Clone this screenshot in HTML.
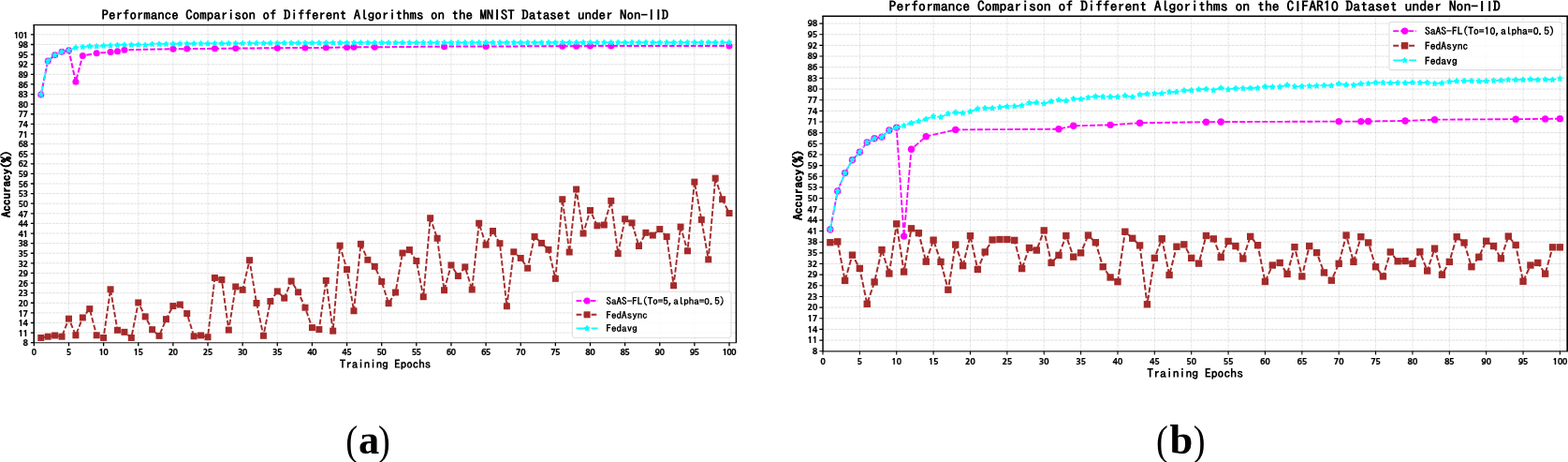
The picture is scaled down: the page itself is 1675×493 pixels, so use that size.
<!DOCTYPE html>
<html lang="en"><head><meta charset="utf-8"><title>Performance Comparison</title>
<style>html,body{margin:0;padding:0;background:#fff;}body{width:1675px;height:493px;overflow:hidden;}svg{display:block;}text{fill:#000;white-space:pre;}</style>
</head><body>
<svg width="1675" height="493" viewBox="0 0 1675 493">
<rect width="1675" height="493" fill="#fff"/>
<g>
<path d="M36.35,365.7H786.45M36.35,355.09H786.45M36.35,344.49H786.45M36.35,333.88H786.45M36.35,323.27H786.45M36.35,312.67H786.45M36.35,302.06H786.45M36.35,291.46H786.45M36.35,280.85H786.45M36.35,270.24H786.45M36.35,259.64H786.45M36.35,249.03H786.45M36.35,238.42H786.45M36.35,227.82H786.45M36.35,217.21H786.45M36.35,206.6H786.45M36.35,196H786.45M36.35,185.39H786.45M36.35,174.79H786.45M36.35,164.18H786.45M36.35,153.57H786.45M36.35,142.97H786.45M36.35,132.36H786.45M36.35,121.75H786.45M36.35,111.15H786.45M36.35,100.54H786.45M36.35,89.93H786.45M36.35,79.33H786.45M36.35,68.72H786.45M36.35,58.12H786.45M36.35,47.51H786.45M36.35,36.9H786.45" fill="none" stroke="#b0b0b0" stroke-opacity="0.47" stroke-width="0.8" stroke-dasharray="3.1 0.85"/>
<path d="M36.35,365.7V26.65M73.48,365.7V26.65M110.62,365.7V26.65M147.75,365.7V26.65M184.88,365.7V26.65M222.02,365.7V26.65M259.15,365.7V26.65M296.29,365.7V26.65M333.42,365.7V26.65M370.55,365.7V26.65M407.69,365.7V26.65M444.82,365.7V26.65M481.95,365.7V26.65M519.09,365.7V26.65M556.22,365.7V26.65M593.35,365.7V26.65M630.49,365.7V26.65M667.62,365.7V26.65M704.76,365.7V26.65M741.89,365.7V26.65M779.02,365.7V26.65" fill="none" stroke="#b0b0b0" stroke-opacity="0.4" stroke-width="0.8" stroke-dasharray="3.1 0.85"/>
<path d="M43.78,100.89L51.2,65.01L58.63,58.82L66.06,55.29L73.48,53.7L80.91,87.18L88.34,59.42L103.19,56.7L118.04,55.53L125.47,54.86L132.9,53.24L184.88,52.25L199.74,52.11L229.45,51.82L251.73,51.54L296.29,51.22L325.99,50.94L348.27,50.87L370.55,50.51L377.98,50.34L400.26,50.27L474.53,49.63L519.09,49.45L600.78,49.28L615.64,49.21L630.49,49.1L652.77,49.1L779.02,48.92" fill="none" stroke="#ff00ff" stroke-width="2" stroke-dasharray="5.6 2"/>
<g fill="#ff00ff"><circle cx="43.78" cy="100.89" r="3.5"/><circle cx="51.2" cy="65.01" r="3.5"/><circle cx="58.63" cy="58.82" r="3.5"/><circle cx="66.06" cy="55.29" r="3.5"/><circle cx="73.48" cy="53.7" r="3.5"/><circle cx="80.91" cy="87.18" r="3.5"/><circle cx="88.34" cy="59.42" r="3.5"/><circle cx="103.19" cy="56.7" r="3.5"/><circle cx="118.04" cy="55.53" r="3.5"/><circle cx="125.47" cy="54.86" r="3.5"/><circle cx="132.9" cy="53.24" r="3.5"/><circle cx="184.88" cy="52.25" r="3.5"/><circle cx="199.74" cy="52.11" r="3.5"/><circle cx="229.45" cy="51.82" r="3.5"/><circle cx="251.73" cy="51.54" r="3.5"/><circle cx="296.29" cy="51.22" r="3.5"/><circle cx="325.99" cy="50.94" r="3.5"/><circle cx="348.27" cy="50.87" r="3.5"/><circle cx="370.55" cy="50.51" r="3.5"/><circle cx="377.98" cy="50.34" r="3.5"/><circle cx="400.26" cy="50.27" r="3.5"/><circle cx="474.53" cy="49.63" r="3.5"/><circle cx="519.09" cy="49.45" r="3.5"/><circle cx="600.78" cy="49.28" r="3.5"/><circle cx="615.64" cy="49.21" r="3.5"/><circle cx="630.49" cy="49.1" r="3.5"/><circle cx="652.77" cy="49.1" r="3.5"/><circle cx="779.02" cy="48.92" r="3.5"/></g>
<path d="M43.78,360.43L51.2,359.19L58.63,357.99L66.06,359.19L73.48,340.14L80.91,357.78L88.34,338.94L95.76,329.6L103.19,357.78L110.62,360.43L118.04,308.78L125.47,352.3L132.9,354.35L140.32,360.43L147.75,322.92L155.18,337.91L162.6,351.7L170.03,358.38L177.46,340.6L184.88,326.56L192.31,325.04L199.74,334.59L207.16,358.81L214.59,357.92L222.02,359.69L229.45,296.41L236.87,298.53L244.3,352.09L251.73,305.95L259.15,309.31L266.58,277.67L274.01,323.45L281.43,358.28L288.86,321.51L296.29,310.9L303.71,318.15L311.14,299.94L318.57,311.78L325.99,328.22L333.42,349.61L340.85,351.56L348.27,299.41L355.7,353.15L363.13,262.11L370.55,287.57L377.98,331.76L385.41,260.34L392.83,277.31L400.26,284.38L407.69,300.47L415.11,323.7L422.54,312L429.97,270L437.39,266.57L444.82,278.48L452.25,316.77L459.67,232.73L467.1,254.26L474.53,309.7L481.95,282.94L489.38,294.5L496.81,284.91L504.23,308.99L511.66,238.21L519.09,261.23L526.51,246.52L533.94,259.71L541.37,326.74L548.79,268.79L556.22,275.44L563.65,286.19L571.07,252.53L578.5,259.39L585.93,266.32L593.35,297.32L600.78,212.72L608.21,269.01L615.64,202.01L623.06,249.07L630.49,224.53L637.92,240.83L645.34,240.05L652.77,214.31L660.2,270.63L667.62,233.72L675.05,237.86L682.48,262.54L689.9,248.29L697.33,251.12L704.76,244.58L712.18,252.6L719.61,304.75L727.04,242.1L734.46,267.8L741.89,194.16L749.32,234.43L756.74,276.89L764.17,190.2L771.6,212.72L779.02,227.5" fill="none" stroke="#a52a2a" stroke-width="1.9" stroke-dasharray="5.7 2.3"/>
<g fill="#a52a2a"><rect x="40.28" y="356.93" width="7" height="7"/><rect x="47.7" y="355.69" width="7" height="7"/><rect x="55.13" y="354.49" width="7" height="7"/><rect x="62.56" y="355.69" width="7" height="7"/><rect x="69.98" y="336.64" width="7" height="7"/><rect x="77.41" y="354.28" width="7" height="7"/><rect x="84.84" y="335.44" width="7" height="7"/><rect x="92.26" y="326.1" width="7" height="7"/><rect x="99.69" y="354.28" width="7" height="7"/><rect x="107.12" y="356.93" width="7" height="7"/><rect x="114.54" y="305.28" width="7" height="7"/><rect x="121.97" y="348.8" width="7" height="7"/><rect x="129.4" y="350.85" width="7" height="7"/><rect x="136.82" y="356.93" width="7" height="7"/><rect x="144.25" y="319.42" width="7" height="7"/><rect x="151.68" y="334.41" width="7" height="7"/><rect x="159.1" y="348.2" width="7" height="7"/><rect x="166.53" y="354.88" width="7" height="7"/><rect x="173.96" y="337.1" width="7" height="7"/><rect x="181.38" y="323.06" width="7" height="7"/><rect x="188.81" y="321.54" width="7" height="7"/><rect x="196.24" y="331.09" width="7" height="7"/><rect x="203.66" y="355.31" width="7" height="7"/><rect x="211.09" y="354.42" width="7" height="7"/><rect x="218.52" y="356.19" width="7" height="7"/><rect x="225.95" y="292.91" width="7" height="7"/><rect x="233.37" y="295.03" width="7" height="7"/><rect x="240.8" y="348.59" width="7" height="7"/><rect x="248.23" y="302.45" width="7" height="7"/><rect x="255.65" y="305.81" width="7" height="7"/><rect x="263.08" y="274.17" width="7" height="7"/><rect x="270.51" y="319.95" width="7" height="7"/><rect x="277.93" y="354.78" width="7" height="7"/><rect x="285.36" y="318.01" width="7" height="7"/><rect x="292.79" y="307.4" width="7" height="7"/><rect x="300.21" y="314.65" width="7" height="7"/><rect x="307.64" y="296.44" width="7" height="7"/><rect x="315.07" y="308.28" width="7" height="7"/><rect x="322.49" y="324.72" width="7" height="7"/><rect x="329.92" y="346.11" width="7" height="7"/><rect x="337.35" y="348.06" width="7" height="7"/><rect x="344.77" y="295.91" width="7" height="7"/><rect x="352.2" y="349.65" width="7" height="7"/><rect x="359.63" y="258.61" width="7" height="7"/><rect x="367.05" y="284.07" width="7" height="7"/><rect x="374.48" y="328.26" width="7" height="7"/><rect x="381.91" y="256.84" width="7" height="7"/><rect x="389.33" y="273.81" width="7" height="7"/><rect x="396.76" y="280.88" width="7" height="7"/><rect x="404.19" y="296.97" width="7" height="7"/><rect x="411.61" y="320.2" width="7" height="7"/><rect x="419.04" y="308.5" width="7" height="7"/><rect x="426.47" y="266.5" width="7" height="7"/><rect x="433.89" y="263.07" width="7" height="7"/><rect x="441.32" y="274.98" width="7" height="7"/><rect x="448.75" y="313.27" width="7" height="7"/><rect x="456.17" y="229.23" width="7" height="7"/><rect x="463.6" y="250.76" width="7" height="7"/><rect x="471.03" y="306.2" width="7" height="7"/><rect x="478.45" y="279.44" width="7" height="7"/><rect x="485.88" y="291" width="7" height="7"/><rect x="493.31" y="281.41" width="7" height="7"/><rect x="500.73" y="305.49" width="7" height="7"/><rect x="508.16" y="234.71" width="7" height="7"/><rect x="515.59" y="257.73" width="7" height="7"/><rect x="523.01" y="243.02" width="7" height="7"/><rect x="530.44" y="256.21" width="7" height="7"/><rect x="537.87" y="323.24" width="7" height="7"/><rect x="545.29" y="265.29" width="7" height="7"/><rect x="552.72" y="271.94" width="7" height="7"/><rect x="560.15" y="282.69" width="7" height="7"/><rect x="567.57" y="249.03" width="7" height="7"/><rect x="575" y="255.89" width="7" height="7"/><rect x="582.43" y="262.82" width="7" height="7"/><rect x="589.85" y="293.82" width="7" height="7"/><rect x="597.28" y="209.22" width="7" height="7"/><rect x="604.71" y="265.51" width="7" height="7"/><rect x="612.14" y="198.51" width="7" height="7"/><rect x="619.56" y="245.57" width="7" height="7"/><rect x="626.99" y="221.03" width="7" height="7"/><rect x="634.42" y="237.33" width="7" height="7"/><rect x="641.84" y="236.55" width="7" height="7"/><rect x="649.27" y="210.81" width="7" height="7"/><rect x="656.7" y="267.13" width="7" height="7"/><rect x="664.12" y="230.22" width="7" height="7"/><rect x="671.55" y="234.36" width="7" height="7"/><rect x="678.98" y="259.04" width="7" height="7"/><rect x="686.4" y="244.79" width="7" height="7"/><rect x="693.83" y="247.62" width="7" height="7"/><rect x="701.26" y="241.08" width="7" height="7"/><rect x="708.68" y="249.1" width="7" height="7"/><rect x="716.11" y="301.25" width="7" height="7"/><rect x="723.54" y="238.6" width="7" height="7"/><rect x="730.96" y="264.3" width="7" height="7"/><rect x="738.39" y="190.66" width="7" height="7"/><rect x="745.82" y="230.93" width="7" height="7"/><rect x="753.24" y="273.39" width="7" height="7"/><rect x="760.67" y="186.7" width="7" height="7"/><rect x="768.1" y="209.22" width="7" height="7"/><rect x="775.52" y="224" width="7" height="7"/></g>
<path d="M43.78,100.89L51.2,65.01L58.63,58.82L66.06,55.29L73.48,53.7L80.91,50.87L88.34,50.05L95.76,49.28L103.19,49.45L110.62,48.78L118.04,48.57L125.47,48.04L132.9,47.9L140.32,47.83L147.75,47.72L155.18,48.04L162.6,47.08L170.03,46.98L177.46,46.98L184.88,46.86L192.31,46.74L199.74,46.63L207.16,46.58L214.59,46.53L222.02,46.48L229.45,46.44L236.87,46.39L244.3,46.34L251.73,46.29L259.15,46.24L266.58,46.18L274.01,46.13L281.43,46.08L288.86,46.02L296.29,45.97L303.71,45.92L311.14,45.89L318.57,45.86L325.99,45.84L333.42,45.81L340.85,45.78L348.27,45.75L355.7,45.73L363.13,45.7L370.55,45.67L377.98,45.66L385.41,45.64L392.83,45.63L400.26,45.61L407.69,45.6L415.11,45.59L422.54,45.57L429.97,45.56L437.39,45.54L444.82,45.53L452.25,45.52L459.67,45.5L467.1,45.49L474.53,45.47L481.95,45.46L489.38,45.45L496.81,45.44L504.23,45.44L511.66,45.43L519.09,45.42L526.51,45.42L533.94,45.41L541.37,45.4L548.79,45.39L556.22,45.39L563.65,45.38L571.07,45.37L578.5,45.37L585.93,45.36L593.35,45.35L600.78,45.35L608.21,45.34L615.64,45.33L623.06,45.32L630.49,45.32L637.92,45.31L645.34,45.31L652.77,45.3L660.2,45.3L667.62,45.29L675.05,45.29L682.48,45.28L689.9,45.27L697.33,45.27L704.76,45.26L712.18,45.26L719.61,45.25L727.04,45.25L734.46,45.24L741.89,45.24L749.32,45.23L756.74,45.23L764.17,45.22L771.6,45.21L779.02,45.21" fill="none" stroke="#00ffff" stroke-width="1.6" stroke-dasharray="9.6 2.4 1.5 2.4"/>
<path d="M43.78,97.74L44.64,99.57L46.47,99.92L45.18,101.4L45.44,103.44L43.78,102.53L42.11,103.44L42.37,101.4L41.08,99.92L42.91,99.57ZM51.2,61.86L52.07,63.68L53.9,64.04L52.61,65.52L52.87,67.56L51.2,66.65L49.54,67.56L49.8,65.52L48.51,64.04L50.34,63.68ZM58.63,55.67L59.5,57.5L61.33,57.85L60.03,59.33L60.3,61.37L58.63,60.46L56.96,61.37L57.23,59.33L55.93,57.85L57.76,57.5ZM66.06,52.14L66.92,53.96L68.75,54.31L67.46,55.79L67.72,57.84L66.06,56.93L64.39,57.84L64.65,55.79L63.36,54.31L65.19,53.96ZM73.48,50.55L74.35,52.37L76.18,52.72L74.89,54.2L75.15,56.24L73.48,55.33L71.82,56.24L72.08,54.2L70.79,52.72L72.62,52.37ZM80.91,47.72L81.78,49.54L83.61,49.89L82.31,51.37L82.58,53.42L80.91,52.51L79.24,53.42L79.51,51.37L78.21,49.89L80.04,49.54ZM88.34,46.9L89.2,48.73L91.03,49.08L89.74,50.56L90,52.6L88.34,51.69L86.67,52.6L86.94,50.56L85.64,49.08L87.47,48.73ZM95.76,46.13L96.63,47.95L98.46,48.3L97.17,49.78L97.43,51.83L95.76,50.91L94.1,51.83L94.36,49.78L93.07,48.3L94.9,47.95ZM103.19,46.3L104.06,48.13L105.89,48.48L104.59,49.96L104.86,52L103.19,51.09L101.52,52L101.79,49.96L100.49,48.48L102.32,48.13ZM110.62,45.63L111.48,47.46L113.31,47.81L112.02,49.29L112.28,51.33L110.62,50.42L108.95,51.33L109.22,49.29L107.92,47.81L109.75,47.46ZM118.04,45.42L118.91,47.24L120.74,47.6L119.45,49.08L119.71,51.12L118.04,50.21L116.38,51.12L116.64,49.08L115.35,47.6L117.18,47.24ZM125.47,44.89L126.34,46.71L128.17,47.07L126.87,48.55L127.14,50.59L125.47,49.68L123.8,50.59L124.07,48.55L122.77,47.07L124.6,46.71ZM132.9,44.75L133.76,46.57L135.59,46.92L134.3,48.4L134.56,50.45L132.9,49.54L131.23,50.45L131.5,48.4L130.2,46.92L132.03,46.57ZM140.32,44.68L141.19,46.5L143.02,46.85L141.73,48.33L141.99,50.38L140.32,49.47L138.66,50.38L138.92,48.33L137.63,46.85L139.46,46.5ZM147.75,44.57L148.62,46.4L150.45,46.75L149.15,48.23L149.42,50.27L147.75,49.36L146.08,50.27L146.35,48.23L145.05,46.75L146.88,46.4ZM155.18,44.89L156.04,46.71L157.87,47.07L156.58,48.55L156.84,50.59L155.18,49.68L153.51,50.59L153.78,48.55L152.48,47.07L154.31,46.71ZM162.6,43.93L163.47,45.76L165.3,46.11L164.01,47.59L164.27,49.63L162.6,48.72L160.94,49.63L161.2,47.59L159.91,46.11L161.74,45.76ZM170.03,43.83L170.9,45.65L172.73,46.01L171.43,47.49L171.7,49.53L170.03,48.62L168.36,49.53L168.63,47.49L167.33,46.01L169.16,45.65ZM177.46,43.83L178.32,45.65L180.15,46.01L178.86,47.49L179.12,49.53L177.46,48.62L175.79,49.53L176.06,47.49L174.76,46.01L176.59,45.65ZM184.88,43.71L185.75,45.54L187.58,45.89L186.29,47.37L186.55,49.41L184.88,48.5L183.22,49.41L183.48,47.37L182.19,45.89L184.02,45.54ZM192.31,43.59L193.18,45.42L195.01,45.77L193.71,47.25L193.98,49.29L192.31,48.38L190.65,49.29L190.91,47.25L189.62,45.77L191.44,45.42ZM199.74,43.48L200.6,45.3L202.43,45.65L201.14,47.13L201.4,49.17L199.74,48.26L198.07,49.17L198.34,47.13L197.04,45.65L198.87,45.3ZM207.16,43.43L208.03,45.25L209.86,45.61L208.57,47.09L208.83,49.13L207.16,48.22L205.5,49.13L205.76,47.09L204.47,45.61L206.3,45.25ZM214.59,43.38L215.46,45.2L217.29,45.56L215.99,47.04L216.26,49.08L214.59,48.17L212.93,49.08L213.19,47.04L211.9,45.56L213.73,45.2ZM222.02,43.33L222.88,45.16L224.71,45.51L223.42,46.99L223.68,49.03L222.02,48.12L220.35,49.03L220.62,46.99L219.32,45.51L221.15,45.16ZM229.45,43.29L230.31,45.11L232.14,45.46L230.85,46.94L231.11,48.99L229.45,48.08L227.78,48.99L228.04,46.94L226.75,45.46L228.58,45.11ZM236.87,43.24L237.74,45.06L239.57,45.42L238.27,46.89L238.54,48.94L236.87,48.03L235.21,48.94L235.47,46.89L234.18,45.42L236.01,45.06ZM244.3,43.19L245.17,45.02L246.99,45.37L245.7,46.85L245.96,48.89L244.3,47.98L242.63,48.89L242.9,46.85L241.6,45.37L243.43,45.02ZM251.73,43.14L252.59,44.96L254.42,45.32L253.13,46.8L253.39,48.84L251.73,47.93L250.06,48.84L250.32,46.8L249.03,45.32L250.86,44.96ZM259.15,43.09L260.02,44.91L261.85,45.26L260.55,46.74L260.82,48.78L259.15,47.87L257.49,48.78L257.75,46.74L256.46,45.26L258.29,44.91ZM266.58,43.03L267.45,44.86L269.27,45.21L267.98,46.69L268.25,48.73L266.58,47.82L264.91,48.73L265.18,46.69L263.88,45.21L265.71,44.86ZM274.01,42.98L274.87,44.81L276.7,45.16L275.41,46.64L275.67,48.68L274.01,47.77L272.34,48.68L272.6,46.64L271.31,45.16L273.14,44.81ZM281.43,42.93L282.3,44.75L284.13,45.1L282.83,46.58L283.1,48.63L281.43,47.72L279.77,48.63L280.03,46.58L278.74,45.1L280.57,44.75ZM288.86,42.87L289.73,44.7L291.56,45.05L290.26,46.53L290.53,48.57L288.86,47.66L287.19,48.57L287.46,46.53L286.16,45.05L287.99,44.7ZM296.29,42.82L297.15,44.65L298.98,45L297.69,46.48L297.95,48.52L296.29,47.61L294.62,48.52L294.88,46.48L293.59,45L295.42,44.65ZM303.71,42.77L304.58,44.59L306.41,44.94L305.11,46.42L305.38,48.47L303.71,47.56L302.05,48.47L302.31,46.42L301.02,44.94L302.85,44.59ZM311.14,42.74L312.01,44.56L313.84,44.92L312.54,46.4L312.81,48.44L311.14,47.53L309.47,48.44L309.74,46.4L308.44,44.92L310.27,44.56ZM318.57,42.71L319.43,44.54L321.26,44.89L319.97,46.37L320.23,48.41L318.57,47.5L316.9,48.41L317.16,46.37L315.87,44.89L317.7,44.54ZM325.99,42.69L326.86,44.51L328.69,44.86L327.39,46.34L327.66,48.39L325.99,47.47L324.33,48.39L324.59,46.34L323.3,44.86L325.13,44.51ZM333.42,42.66L334.29,44.48L336.12,44.84L334.82,46.31L335.09,48.36L333.42,47.45L331.75,48.36L332.02,46.31L330.72,44.84L332.55,44.48ZM340.85,42.63L341.71,44.46L343.54,44.81L342.25,46.29L342.51,48.33L340.85,47.42L339.18,48.33L339.44,46.29L338.15,44.81L339.98,44.46ZM348.27,42.6L349.14,44.43L350.97,44.78L349.67,46.26L349.94,48.3L348.27,47.39L346.61,48.3L346.87,46.26L345.58,44.78L347.41,44.43ZM355.7,42.58L356.57,44.4L358.4,44.75L357.1,46.23L357.37,48.28L355.7,47.37L354.03,48.28L354.3,46.23L353,44.75L354.83,44.4ZM363.13,42.55L363.99,44.37L365.82,44.73L364.53,46.21L364.79,48.25L363.13,47.34L361.46,48.25L361.72,46.21L360.43,44.73L362.26,44.37ZM370.55,42.52L371.42,44.35L373.25,44.7L371.96,46.18L372.22,48.22L370.55,47.31L368.89,48.22L369.15,46.18L367.86,44.7L369.69,44.35ZM377.98,42.51L378.85,44.33L380.68,44.68L379.38,46.16L379.65,48.21L377.98,47.29L376.31,48.21L376.58,46.16L375.28,44.68L377.11,44.33ZM385.41,42.49L386.27,44.32L388.1,44.67L386.81,46.15L387.07,48.19L385.41,47.28L383.74,48.19L384,46.15L382.71,44.67L384.54,44.32ZM392.83,42.48L393.7,44.3L395.53,44.65L394.24,46.13L394.5,48.18L392.83,47.27L391.17,48.18L391.43,46.13L390.14,44.65L391.97,44.3ZM400.26,42.46L401.13,44.29L402.96,44.64L401.66,46.12L401.93,48.16L400.26,47.25L398.59,48.16L398.86,46.12L397.56,44.64L399.39,44.29ZM407.69,42.45L408.55,44.27L410.38,44.63L409.09,46.11L409.35,48.15L407.69,47.24L406.02,48.15L406.28,46.11L404.99,44.63L406.82,44.27ZM415.11,42.44L415.98,44.26L417.81,44.61L416.52,46.09L416.78,48.13L415.11,47.22L413.45,48.13L413.71,46.09L412.42,44.61L414.25,44.26ZM422.54,42.42L423.41,44.25L425.24,44.6L423.94,46.08L424.21,48.12L422.54,47.21L420.87,48.12L421.14,46.08L419.84,44.6L421.67,44.25ZM429.97,42.41L430.83,44.23L432.66,44.58L431.37,46.06L431.63,48.11L429.97,47.2L428.3,48.11L428.56,46.06L427.27,44.58L429.1,44.23ZM437.39,42.39L438.26,44.22L440.09,44.57L438.8,46.05L439.06,48.09L437.39,47.18L435.73,48.09L435.99,46.05L434.7,44.57L436.53,44.22ZM444.82,42.38L445.69,44.2L447.52,44.56L446.22,46.04L446.49,48.08L444.82,47.17L443.15,48.08L443.42,46.04L442.12,44.56L443.95,44.2ZM452.25,42.37L453.11,44.19L454.94,44.54L453.65,46.02L453.91,48.06L452.25,47.15L450.58,48.06L450.84,46.02L449.55,44.54L451.38,44.19ZM459.67,42.35L460.54,44.18L462.37,44.53L461.08,46.01L461.34,48.05L459.67,47.14L458.01,48.05L458.27,46.01L456.98,44.53L458.81,44.18ZM467.1,42.34L467.97,44.16L469.8,44.51L468.5,45.99L468.77,48.04L467.1,47.12L465.43,48.04L465.7,45.99L464.4,44.51L466.23,44.16ZM474.53,42.32L475.39,44.15L477.22,44.5L475.93,45.98L476.19,48.02L474.53,47.11L472.86,48.02L473.13,45.98L471.83,44.5L473.66,44.15ZM481.95,42.31L482.82,44.13L484.65,44.49L483.36,45.96L483.62,48.01L481.95,47.1L480.29,48.01L480.55,45.96L479.26,44.49L481.09,44.13ZM489.38,42.3L490.25,44.13L492.08,44.48L490.78,45.96L491.05,48L489.38,47.09L487.71,48L487.98,45.96L486.68,44.48L488.51,44.13ZM496.81,42.29L497.67,44.12L499.5,44.47L498.21,45.95L498.47,47.99L496.81,47.08L495.14,47.99L495.41,45.95L494.11,44.47L495.94,44.12ZM504.23,42.29L505.1,44.11L506.93,44.46L505.64,45.94L505.9,47.99L504.23,47.08L502.57,47.99L502.83,45.94L501.54,44.46L503.37,44.11ZM511.66,42.28L512.53,44.11L514.36,44.46L513.06,45.94L513.33,47.98L511.66,47.07L509.99,47.98L510.26,45.94L508.96,44.46L510.79,44.11ZM519.09,42.27L519.95,44.1L521.78,44.45L520.49,45.93L520.75,47.97L519.09,47.06L517.42,47.97L517.69,45.93L516.39,44.45L518.22,44.1ZM526.51,42.27L527.38,44.09L529.21,44.44L527.92,45.92L528.18,47.96L526.51,47.05L524.85,47.96L525.11,45.92L523.82,44.44L525.65,44.09ZM533.94,42.26L534.81,44.08L536.64,44.44L535.34,45.92L535.61,47.96L533.94,47.05L532.27,47.96L532.54,45.92L531.24,44.44L533.07,44.08ZM541.37,42.25L542.23,44.08L544.06,44.43L542.77,45.91L543.03,47.95L541.37,47.04L539.7,47.95L539.97,45.91L538.67,44.43L540.5,44.08ZM548.79,42.24L549.66,44.07L551.49,44.42L550.2,45.9L550.46,47.94L548.79,47.03L547.13,47.94L547.39,45.9L546.1,44.42L547.93,44.07ZM556.22,42.24L557.09,44.06L558.92,44.41L557.62,45.89L557.89,47.94L556.22,47.03L554.55,47.94L554.82,45.89L553.53,44.41L555.35,44.06ZM563.65,42.23L564.51,44.06L566.34,44.41L565.05,45.89L565.31,47.93L563.65,47.02L561.98,47.93L562.25,45.89L560.95,44.41L562.78,44.06ZM571.07,42.22L571.94,44.05L573.77,44.4L572.48,45.88L572.74,47.92L571.07,47.01L569.41,47.92L569.67,45.88L568.38,44.4L570.21,44.05ZM578.5,42.22L579.37,44.04L581.2,44.39L579.9,45.87L580.17,47.92L578.5,47L576.84,47.92L577.1,45.87L575.81,44.39L577.63,44.04ZM585.93,42.21L586.79,44.03L588.62,44.39L587.33,45.87L587.59,47.91L585.93,47L584.26,47.91L584.53,45.87L583.23,44.39L585.06,44.03ZM593.35,42.2L594.22,44.03L596.05,44.38L594.76,45.86L595.02,47.9L593.35,46.99L591.69,47.9L591.95,45.86L590.66,44.38L592.49,44.03ZM600.78,42.2L601.65,44.02L603.48,44.37L602.18,45.85L602.45,47.89L600.78,46.98L599.12,47.89L599.38,45.85L598.09,44.37L599.92,44.02ZM608.21,42.19L609.07,44.01L610.9,44.37L609.61,45.84L609.87,47.89L608.21,46.98L606.54,47.89L606.81,45.84L605.51,44.37L607.34,44.01ZM615.64,42.18L616.5,44.01L618.33,44.36L617.04,45.84L617.3,47.88L615.64,46.97L613.97,47.88L614.23,45.84L612.94,44.36L614.77,44.01ZM623.06,42.17L623.93,44L625.76,44.35L624.46,45.83L624.73,47.87L623.06,46.96L621.4,47.87L621.66,45.83L620.37,44.35L622.2,44ZM630.49,42.17L631.36,43.99L633.18,44.34L631.89,45.82L632.15,47.87L630.49,46.96L628.82,47.87L629.09,45.82L627.79,44.34L629.62,43.99ZM637.92,42.16L638.78,43.99L640.61,44.34L639.32,45.82L639.58,47.86L637.92,46.95L636.25,47.86L636.51,45.82L635.22,44.34L637.05,43.99ZM645.34,42.16L646.21,43.98L648.04,44.33L646.74,45.81L647.01,47.85L645.34,46.94L643.68,47.85L643.94,45.81L642.65,44.33L644.48,43.98ZM652.77,42.15L653.64,43.97L655.47,44.33L654.17,45.81L654.44,47.85L652.77,46.94L651.1,47.85L651.37,45.81L650.07,44.33L651.9,43.97ZM660.2,42.15L661.06,43.97L662.89,44.32L661.6,45.8L661.86,47.84L660.2,46.93L658.53,47.84L658.79,45.8L657.5,44.32L659.33,43.97ZM667.62,42.14L668.49,43.97L670.32,44.32L669.02,45.8L669.29,47.84L667.62,46.93L665.96,47.84L666.22,45.8L664.93,44.32L666.76,43.97ZM675.05,42.14L675.92,43.96L677.75,44.31L676.45,45.79L676.72,47.83L675.05,46.92L673.38,47.83L673.65,45.79L672.35,44.31L674.18,43.96ZM682.48,42.13L683.34,43.95L685.17,44.3L683.88,45.78L684.14,47.83L682.48,46.92L680.81,47.83L681.07,45.78L679.78,44.3L681.61,43.95ZM689.9,42.12L690.77,43.95L692.6,44.3L691.3,45.78L691.57,47.82L689.9,46.91L688.24,47.82L688.5,45.78L687.21,44.3L689.04,43.95ZM697.33,42.12L698.2,43.95L700.03,44.3L698.73,45.78L699,47.82L697.33,46.91L695.66,47.82L695.93,45.78L694.63,44.3L696.46,43.95ZM704.76,42.11L705.62,43.94L707.45,44.29L706.16,45.77L706.42,47.81L704.76,46.9L703.09,47.81L703.35,45.77L702.06,44.29L703.89,43.94ZM712.18,42.11L713.05,43.93L714.88,44.28L713.58,45.76L713.85,47.81L712.18,46.9L710.52,47.81L710.78,45.76L709.49,44.28L711.32,43.93ZM719.61,42.1L720.48,43.93L722.31,44.28L721.01,45.76L721.28,47.8L719.61,46.89L717.94,47.8L718.21,45.76L716.91,44.28L718.74,43.93ZM727.04,42.1L727.9,43.92L729.73,44.28L728.44,45.76L728.7,47.8L727.04,46.89L725.37,47.8L725.63,45.76L724.34,44.28L726.17,43.92ZM734.46,42.09L735.33,43.92L737.16,44.27L735.86,45.75L736.13,47.79L734.46,46.88L732.8,47.79L733.06,45.75L731.77,44.27L733.6,43.92ZM741.89,42.09L742.76,43.91L744.59,44.26L743.29,45.74L743.56,47.78L741.89,46.87L740.22,47.78L740.49,45.74L739.19,44.26L741.02,43.91ZM749.32,42.08L750.18,43.91L752.01,44.26L750.72,45.74L750.98,47.78L749.32,46.87L747.65,47.78L747.91,45.74L746.62,44.26L748.45,43.91ZM756.74,42.08L757.61,43.9L759.44,44.26L758.15,45.73L758.41,47.78L756.74,46.87L755.08,47.78L755.34,45.73L754.05,44.26L755.88,43.9ZM764.17,42.07L765.04,43.9L766.87,44.25L765.57,45.73L765.84,47.77L764.17,46.86L762.5,47.77L762.77,45.73L761.47,44.25L763.3,43.9ZM771.6,42.06L772.46,43.89L774.29,44.24L773,45.72L773.26,47.76L771.6,46.85L769.93,47.76L770.19,45.72L768.9,44.24L770.73,43.89ZM779.02,42.06L779.89,43.89L781.72,44.24L780.43,45.72L780.69,47.76L779.02,46.85L777.36,47.76L777.62,45.72L776.33,44.24L778.16,43.89Z" fill="#00ffff" stroke="#00ffff" stroke-width="0.9" stroke-linejoin="round"/>
<rect x="611.4" y="311.1" width="169.65" height="49.25" rx="2.2" fill="#ffffff" fill-opacity="0.8" stroke="#cccccc" stroke-opacity="0.65" stroke-width="1"/>
<path d="M615.6,320.9H638.6" fill="none" stroke="#ff00ff" stroke-width="2" stroke-dasharray="5.6 2"/>
<circle cx="627.1" cy="320.9" r="3.5" fill="#ff00ff"/>
<text transform="translate(647.6,324.8) scale(1,0.94)" font-family="IPAGothic, 'DejaVu Sans Mono', 'Liberation Mono', monospace" font-size="11.02" font-weight="bold" xml:space="preserve"><tspan x="0" textLength="104.69" lengthAdjust="spacing">SaAS-FL(To=5,alpha=</tspan><tspan x="104.51" font-family="NanumGothic, 'Noto Sans CJK SC', 'Liberation Sans', sans-serif" font-size="9.7" font-weight="800">0</tspan><tspan x="110.2" textLength="16.53" lengthAdjust="spacing">.5)</tspan></text>
<path d="M615.6,335.8H638.6" fill="none" stroke="#a52a2a" stroke-width="1.9" stroke-dasharray="5.7 2.3"/>
<rect x="623.6" y="332.3" width="7" height="7" fill="#a52a2a"/>
<text transform="translate(647.6,339.7) scale(1,0.94)" font-family="IPAGothic, 'DejaVu Sans Mono', 'Liberation Mono', monospace" font-size="11.02" font-weight="bold" xml:space="preserve"><tspan x="0" textLength="44.08" lengthAdjust="spacing">FedAsync</tspan></text>
<path d="M615.6,350.4H638.6" fill="none" stroke="#00ffff" stroke-width="1.6" stroke-dasharray="9.6 2.4 1.5 2.4"/>
<path d="M627.1,347.25L627.97,349.07L629.8,349.43L628.5,350.91L628.77,352.95L627.1,352.04L625.43,352.95L625.7,350.91L624.4,349.43L626.23,349.07Z" fill="#00ffff" stroke="#00ffff" stroke-width="0.9" stroke-linejoin="round"/>
<text transform="translate(647.6,354.3) scale(1,0.94)" font-family="IPAGothic, 'DejaVu Sans Mono', 'Liberation Mono', monospace" font-size="11.02" font-weight="bold" xml:space="preserve"><tspan x="0" textLength="33.06" lengthAdjust="spacing">Fedavg</tspan></text>
<path d="M35.5,26.6H787.1" fill="none" stroke="#111" stroke-width="1.05"/>
<path d="M35.5,365.75H787.1" fill="none" stroke="#222" stroke-width="1.2"/>
<path d="M36.25,26.6V365.75" fill="none" stroke="#000" stroke-width="1.5"/>
<path d="M786.4,26.6V365.75" fill="none" stroke="#000" stroke-width="1.4"/>
<path d="M36.35,365.7h-3.5M36.35,355.09h-3.5M36.35,344.49h-3.5M36.35,333.88h-3.5M36.35,323.27h-3.5M36.35,312.67h-3.5M36.35,302.06h-3.5M36.35,291.46h-3.5M36.35,280.85h-3.5M36.35,270.24h-3.5M36.35,259.64h-3.5M36.35,249.03h-3.5M36.35,238.42h-3.5M36.35,227.82h-3.5M36.35,217.21h-3.5M36.35,206.6h-3.5M36.35,196h-3.5M36.35,185.39h-3.5M36.35,174.79h-3.5M36.35,164.18h-3.5M36.35,153.57h-3.5M36.35,142.97h-3.5M36.35,132.36h-3.5M36.35,121.75h-3.5M36.35,111.15h-3.5M36.35,100.54h-3.5M36.35,89.93h-3.5M36.35,79.33h-3.5M36.35,68.72h-3.5M36.35,58.12h-3.5M36.35,47.51h-3.5M36.35,36.9h-3.5M36.35,365.7v3.5M73.48,365.7v3.5M110.62,365.7v3.5M147.75,365.7v3.5M184.88,365.7v3.5M222.02,365.7v3.5M259.15,365.7v3.5M296.29,365.7v3.5M333.42,365.7v3.5M370.55,365.7v3.5M407.69,365.7v3.5M444.82,365.7v3.5M481.95,365.7v3.5M519.09,365.7v3.5M556.22,365.7v3.5M593.35,365.7v3.5M630.49,365.7v3.5M667.62,365.7v3.5M704.76,365.7v3.5M741.89,365.7v3.5M779.02,365.7v3.5" fill="none" stroke="#000" stroke-width="1.3"/>
<g fill="#000">
<text x="24.42" y="369.4" font-family="NanumGothic, 'Noto Sans CJK SC', 'Liberation Sans', sans-serif" font-size="9.1" font-weight="800" letter-spacing="-0.66" stroke="#000" stroke-width="0.15">8</text>
<text x="19.57" y="358.79" font-family="NanumGothic, 'Noto Sans CJK SC', 'Liberation Sans', sans-serif" font-size="9.1" font-weight="800" letter-spacing="-0.66" stroke="#000" stroke-width="0.15">11</text>
<text x="19.57" y="348.19" font-family="NanumGothic, 'Noto Sans CJK SC', 'Liberation Sans', sans-serif" font-size="9.1" font-weight="800" letter-spacing="-0.66" stroke="#000" stroke-width="0.15">14</text>
<text x="19.57" y="337.58" font-family="NanumGothic, 'Noto Sans CJK SC', 'Liberation Sans', sans-serif" font-size="9.1" font-weight="800" letter-spacing="-0.66" stroke="#000" stroke-width="0.15">17</text>
<text x="19.57" y="326.97" font-family="NanumGothic, 'Noto Sans CJK SC', 'Liberation Sans', sans-serif" font-size="9.1" font-weight="800" letter-spacing="-0.66" stroke="#000" stroke-width="0.15">20</text>
<text x="19.57" y="316.37" font-family="NanumGothic, 'Noto Sans CJK SC', 'Liberation Sans', sans-serif" font-size="9.1" font-weight="800" letter-spacing="-0.66" stroke="#000" stroke-width="0.15">23</text>
<text x="19.57" y="305.76" font-family="NanumGothic, 'Noto Sans CJK SC', 'Liberation Sans', sans-serif" font-size="9.1" font-weight="800" letter-spacing="-0.66" stroke="#000" stroke-width="0.15">26</text>
<text x="19.57" y="295.16" font-family="NanumGothic, 'Noto Sans CJK SC', 'Liberation Sans', sans-serif" font-size="9.1" font-weight="800" letter-spacing="-0.66" stroke="#000" stroke-width="0.15">29</text>
<text x="19.57" y="284.55" font-family="NanumGothic, 'Noto Sans CJK SC', 'Liberation Sans', sans-serif" font-size="9.1" font-weight="800" letter-spacing="-0.66" stroke="#000" stroke-width="0.15">32</text>
<text x="19.57" y="273.94" font-family="NanumGothic, 'Noto Sans CJK SC', 'Liberation Sans', sans-serif" font-size="9.1" font-weight="800" letter-spacing="-0.66" stroke="#000" stroke-width="0.15">35</text>
<text x="19.57" y="263.34" font-family="NanumGothic, 'Noto Sans CJK SC', 'Liberation Sans', sans-serif" font-size="9.1" font-weight="800" letter-spacing="-0.66" stroke="#000" stroke-width="0.15">38</text>
<text x="19.57" y="252.73" font-family="NanumGothic, 'Noto Sans CJK SC', 'Liberation Sans', sans-serif" font-size="9.1" font-weight="800" letter-spacing="-0.66" stroke="#000" stroke-width="0.15">41</text>
<text x="19.57" y="242.12" font-family="NanumGothic, 'Noto Sans CJK SC', 'Liberation Sans', sans-serif" font-size="9.1" font-weight="800" letter-spacing="-0.66" stroke="#000" stroke-width="0.15">44</text>
<text x="19.57" y="231.52" font-family="NanumGothic, 'Noto Sans CJK SC', 'Liberation Sans', sans-serif" font-size="9.1" font-weight="800" letter-spacing="-0.66" stroke="#000" stroke-width="0.15">47</text>
<text x="19.57" y="220.91" font-family="NanumGothic, 'Noto Sans CJK SC', 'Liberation Sans', sans-serif" font-size="9.1" font-weight="800" letter-spacing="-0.66" stroke="#000" stroke-width="0.15">50</text>
<text x="19.57" y="210.3" font-family="NanumGothic, 'Noto Sans CJK SC', 'Liberation Sans', sans-serif" font-size="9.1" font-weight="800" letter-spacing="-0.66" stroke="#000" stroke-width="0.15">53</text>
<text x="19.57" y="199.7" font-family="NanumGothic, 'Noto Sans CJK SC', 'Liberation Sans', sans-serif" font-size="9.1" font-weight="800" letter-spacing="-0.66" stroke="#000" stroke-width="0.15">56</text>
<text x="19.57" y="189.09" font-family="NanumGothic, 'Noto Sans CJK SC', 'Liberation Sans', sans-serif" font-size="9.1" font-weight="800" letter-spacing="-0.66" stroke="#000" stroke-width="0.15">59</text>
<text x="19.57" y="178.49" font-family="NanumGothic, 'Noto Sans CJK SC', 'Liberation Sans', sans-serif" font-size="9.1" font-weight="800" letter-spacing="-0.66" stroke="#000" stroke-width="0.15">62</text>
<text x="19.57" y="167.88" font-family="NanumGothic, 'Noto Sans CJK SC', 'Liberation Sans', sans-serif" font-size="9.1" font-weight="800" letter-spacing="-0.66" stroke="#000" stroke-width="0.15">65</text>
<text x="19.57" y="157.27" font-family="NanumGothic, 'Noto Sans CJK SC', 'Liberation Sans', sans-serif" font-size="9.1" font-weight="800" letter-spacing="-0.66" stroke="#000" stroke-width="0.15">68</text>
<text x="19.57" y="146.67" font-family="NanumGothic, 'Noto Sans CJK SC', 'Liberation Sans', sans-serif" font-size="9.1" font-weight="800" letter-spacing="-0.66" stroke="#000" stroke-width="0.15">71</text>
<text x="19.57" y="136.06" font-family="NanumGothic, 'Noto Sans CJK SC', 'Liberation Sans', sans-serif" font-size="9.1" font-weight="800" letter-spacing="-0.66" stroke="#000" stroke-width="0.15">74</text>
<text x="19.57" y="125.45" font-family="NanumGothic, 'Noto Sans CJK SC', 'Liberation Sans', sans-serif" font-size="9.1" font-weight="800" letter-spacing="-0.66" stroke="#000" stroke-width="0.15">77</text>
<text x="19.57" y="114.85" font-family="NanumGothic, 'Noto Sans CJK SC', 'Liberation Sans', sans-serif" font-size="9.1" font-weight="800" letter-spacing="-0.66" stroke="#000" stroke-width="0.15">80</text>
<text x="19.57" y="104.24" font-family="NanumGothic, 'Noto Sans CJK SC', 'Liberation Sans', sans-serif" font-size="9.1" font-weight="800" letter-spacing="-0.66" stroke="#000" stroke-width="0.15">83</text>
<text x="19.57" y="93.63" font-family="NanumGothic, 'Noto Sans CJK SC', 'Liberation Sans', sans-serif" font-size="9.1" font-weight="800" letter-spacing="-0.66" stroke="#000" stroke-width="0.15">86</text>
<text x="19.57" y="83.03" font-family="NanumGothic, 'Noto Sans CJK SC', 'Liberation Sans', sans-serif" font-size="9.1" font-weight="800" letter-spacing="-0.66" stroke="#000" stroke-width="0.15">89</text>
<text x="19.57" y="72.42" font-family="NanumGothic, 'Noto Sans CJK SC', 'Liberation Sans', sans-serif" font-size="9.1" font-weight="800" letter-spacing="-0.66" stroke="#000" stroke-width="0.15">92</text>
<text x="19.57" y="61.82" font-family="NanumGothic, 'Noto Sans CJK SC', 'Liberation Sans', sans-serif" font-size="9.1" font-weight="800" letter-spacing="-0.66" stroke="#000" stroke-width="0.15">95</text>
<text x="19.57" y="51.21" font-family="NanumGothic, 'Noto Sans CJK SC', 'Liberation Sans', sans-serif" font-size="9.1" font-weight="800" letter-spacing="-0.66" stroke="#000" stroke-width="0.15">98</text>
<text x="14.72" y="40.6" font-family="NanumGothic, 'Noto Sans CJK SC', 'Liberation Sans', sans-serif" font-size="9.1" font-weight="800" letter-spacing="-0.66" stroke="#000" stroke-width="0.15">101</text>
<text x="33.59" y="379" font-family="NanumGothic, 'Noto Sans CJK SC', 'Liberation Sans', sans-serif" font-size="9.1" font-weight="800" letter-spacing="-0.66" stroke="#000" stroke-width="0.15">0</text>
<text x="70.73" y="379" font-family="NanumGothic, 'Noto Sans CJK SC', 'Liberation Sans', sans-serif" font-size="9.1" font-weight="800" letter-spacing="-0.66" stroke="#000" stroke-width="0.15">5</text>
<text x="105.44" y="379" font-family="NanumGothic, 'Noto Sans CJK SC', 'Liberation Sans', sans-serif" font-size="9.1" font-weight="800" letter-spacing="-0.66" stroke="#000" stroke-width="0.15">10</text>
<text x="142.57" y="379" font-family="NanumGothic, 'Noto Sans CJK SC', 'Liberation Sans', sans-serif" font-size="9.1" font-weight="800" letter-spacing="-0.66" stroke="#000" stroke-width="0.15">15</text>
<text x="179.7" y="379" font-family="NanumGothic, 'Noto Sans CJK SC', 'Liberation Sans', sans-serif" font-size="9.1" font-weight="800" letter-spacing="-0.66" stroke="#000" stroke-width="0.15">20</text>
<text x="216.84" y="379" font-family="NanumGothic, 'Noto Sans CJK SC', 'Liberation Sans', sans-serif" font-size="9.1" font-weight="800" letter-spacing="-0.66" stroke="#000" stroke-width="0.15">25</text>
<text x="253.97" y="379" font-family="NanumGothic, 'Noto Sans CJK SC', 'Liberation Sans', sans-serif" font-size="9.1" font-weight="800" letter-spacing="-0.66" stroke="#000" stroke-width="0.15">30</text>
<text x="291.1" y="379" font-family="NanumGothic, 'Noto Sans CJK SC', 'Liberation Sans', sans-serif" font-size="9.1" font-weight="800" letter-spacing="-0.66" stroke="#000" stroke-width="0.15">35</text>
<text x="328.24" y="379" font-family="NanumGothic, 'Noto Sans CJK SC', 'Liberation Sans', sans-serif" font-size="9.1" font-weight="800" letter-spacing="-0.66" stroke="#000" stroke-width="0.15">40</text>
<text x="365.37" y="379" font-family="NanumGothic, 'Noto Sans CJK SC', 'Liberation Sans', sans-serif" font-size="9.1" font-weight="800" letter-spacing="-0.66" stroke="#000" stroke-width="0.15">45</text>
<text x="402.5" y="379" font-family="NanumGothic, 'Noto Sans CJK SC', 'Liberation Sans', sans-serif" font-size="9.1" font-weight="800" letter-spacing="-0.66" stroke="#000" stroke-width="0.15">50</text>
<text x="439.64" y="379" font-family="NanumGothic, 'Noto Sans CJK SC', 'Liberation Sans', sans-serif" font-size="9.1" font-weight="800" letter-spacing="-0.66" stroke="#000" stroke-width="0.15">55</text>
<text x="476.77" y="379" font-family="NanumGothic, 'Noto Sans CJK SC', 'Liberation Sans', sans-serif" font-size="9.1" font-weight="800" letter-spacing="-0.66" stroke="#000" stroke-width="0.15">60</text>
<text x="513.91" y="379" font-family="NanumGothic, 'Noto Sans CJK SC', 'Liberation Sans', sans-serif" font-size="9.1" font-weight="800" letter-spacing="-0.66" stroke="#000" stroke-width="0.15">65</text>
<text x="551.04" y="379" font-family="NanumGothic, 'Noto Sans CJK SC', 'Liberation Sans', sans-serif" font-size="9.1" font-weight="800" letter-spacing="-0.66" stroke="#000" stroke-width="0.15">70</text>
<text x="588.17" y="379" font-family="NanumGothic, 'Noto Sans CJK SC', 'Liberation Sans', sans-serif" font-size="9.1" font-weight="800" letter-spacing="-0.66" stroke="#000" stroke-width="0.15">75</text>
<text x="625.31" y="379" font-family="NanumGothic, 'Noto Sans CJK SC', 'Liberation Sans', sans-serif" font-size="9.1" font-weight="800" letter-spacing="-0.66" stroke="#000" stroke-width="0.15">80</text>
<text x="662.44" y="379" font-family="NanumGothic, 'Noto Sans CJK SC', 'Liberation Sans', sans-serif" font-size="9.1" font-weight="800" letter-spacing="-0.66" stroke="#000" stroke-width="0.15">85</text>
<text x="699.57" y="379" font-family="NanumGothic, 'Noto Sans CJK SC', 'Liberation Sans', sans-serif" font-size="9.1" font-weight="800" letter-spacing="-0.66" stroke="#000" stroke-width="0.15">90</text>
<text x="736.71" y="379" font-family="NanumGothic, 'Noto Sans CJK SC', 'Liberation Sans', sans-serif" font-size="9.1" font-weight="800" letter-spacing="-0.66" stroke="#000" stroke-width="0.15">95</text>
<text x="771.42" y="379" font-family="NanumGothic, 'Noto Sans CJK SC', 'Liberation Sans', sans-serif" font-size="9.1" font-weight="800" letter-spacing="-0.66" stroke="#000" stroke-width="0.15">100</text>
</g>
<text transform="translate(411.4,20.6) scale(1,0.94)" font-family="IPAGothic, 'DejaVu Sans Mono', 'Liberation Mono', monospace" font-size="14.96" font-weight="bold" xml:space="preserve"><tspan x="-302.94" textLength="418.88" lengthAdjust="spacing">Performance Comparison of Different Algorithms on the MN</tspan><tspan x="117.96" font-family="NanumGothic, 'Noto Sans CJK SC', 'Liberation Sans', sans-serif" font-size="14.21" font-weight="800">I</tspan><tspan x="123.42" textLength="157.08" lengthAdjust="spacing">ST Dataset under Non-</tspan><tspan x="282.52" font-family="NanumGothic, 'Noto Sans CJK SC', 'Liberation Sans', sans-serif" font-size="14.21" font-weight="800">I</tspan><tspan x="290" font-family="NanumGothic, 'Noto Sans CJK SC', 'Liberation Sans', sans-serif" font-size="14.21" font-weight="800">I</tspan><tspan x="295.46">D</tspan></text>
<text transform="translate(411.4,392.6) scale(1,0.94)" font-family="IPAGothic, 'DejaVu Sans Mono', 'Liberation Mono', monospace" font-size="13" font-weight="bold" xml:space="preserve"><tspan x="-48.75" textLength="97.5" lengthAdjust="spacing">Training Epochs</tspan></text>
<text transform="translate(10.6,196.17) rotate(-90) scale(1,0.94)" font-family="IPAGothic, 'DejaVu Sans Mono', 'Liberation Mono', monospace" font-size="13" font-weight="bold" xml:space="preserve" stroke="#000" stroke-width="0.15"><tspan x="-35.75" textLength="71.5" lengthAdjust="spacing">Accuracy(%)</tspan></text>
</g>
<g>
<path d="M879,374.73H1674.3M879,363.08H1674.3M879,351.42H1674.3M879,339.77H1674.3M879,328.11H1674.3M879,316.46H1674.3M879,304.8H1674.3M879,293.15H1674.3M879,281.49H1674.3M879,269.84H1674.3M879,258.19H1674.3M879,246.53H1674.3M879,234.88H1674.3M879,223.22H1674.3M879,211.57H1674.3M879,199.91H1674.3M879,188.26H1674.3M879,176.6H1674.3M879,164.95H1674.3M879,153.29H1674.3M879,141.64H1674.3M879,129.99H1674.3M879,118.33H1674.3M879,106.68H1674.3M879,95.02H1674.3M879,83.37H1674.3M879,71.71H1674.3M879,60.06H1674.3M879,48.4H1674.3M879,36.75H1674.3M879,25.1H1674.3" fill="none" stroke="#b0b0b0" stroke-opacity="0.47" stroke-width="0.84" stroke-dasharray="3.3 0.9"/>
<path d="M879,374.73V17.17M918.37,374.73V17.17M957.74,374.73V17.17M997.11,374.73V17.17M1036.49,374.73V17.17M1075.86,374.73V17.17M1115.23,374.73V17.17M1154.6,374.73V17.17M1193.97,374.73V17.17M1233.34,374.73V17.17M1272.71,374.73V17.17M1312.08,374.73V17.17M1351.46,374.73V17.17M1390.83,374.73V17.17M1430.2,374.73V17.17M1469.57,374.73V17.17M1508.94,374.73V17.17M1548.31,374.73V17.17M1587.68,374.73V17.17M1627.05,374.73V17.17M1666.43,374.73V17.17" fill="none" stroke="#b0b0b0" stroke-opacity="0.4" stroke-width="0.84" stroke-dasharray="3.3 0.9"/>
<path d="M886.87,245.05L894.75,203.95L902.62,184.57L910.5,170.78L918.37,162.27L926.25,151.82L934.12,147.78L941.99,146.07L949.87,139.04L957.74,136.08L965.62,252.09L973.49,159.28L989.24,145.64L1020.74,138.42L1130.98,137.72L1146.72,134.3L1186.1,133.33L1217.59,131.23L1288.46,130.22L1304.21,130.06L1430.2,129.6L1453.82,129.6L1461.7,129.44L1501.07,128.94L1532.56,127.65L1619.18,127.15L1650.68,126.88L1666.43,126.68" fill="none" stroke="#ff00ff" stroke-width="1.85" stroke-dasharray="5.91 2.11"/>
<g fill="#ff00ff"><circle cx="886.87" cy="245.05" r="3.69"/><circle cx="894.75" cy="203.95" r="3.69"/><circle cx="902.62" cy="184.57" r="3.69"/><circle cx="910.5" cy="170.78" r="3.69"/><circle cx="918.37" cy="162.27" r="3.69"/><circle cx="926.25" cy="151.82" r="3.69"/><circle cx="934.12" cy="147.78" r="3.69"/><circle cx="941.99" cy="146.07" r="3.69"/><circle cx="949.87" cy="139.04" r="3.69"/><circle cx="957.74" cy="136.08" r="3.69"/><circle cx="965.62" cy="252.09" r="3.69"/><circle cx="973.49" cy="159.28" r="3.69"/><circle cx="989.24" cy="145.64" r="3.69"/><circle cx="1020.74" cy="138.42" r="3.69"/><circle cx="1130.98" cy="137.72" r="3.69"/><circle cx="1146.72" cy="134.3" r="3.69"/><circle cx="1186.1" cy="133.33" r="3.69"/><circle cx="1217.59" cy="131.23" r="3.69"/><circle cx="1288.46" cy="130.22" r="3.69"/><circle cx="1304.21" cy="130.06" r="3.69"/><circle cx="1430.2" cy="129.6" r="3.69"/><circle cx="1453.82" cy="129.6" r="3.69"/><circle cx="1461.7" cy="129.44" r="3.69"/><circle cx="1501.07" cy="128.94" r="3.69"/><circle cx="1532.56" cy="127.65" r="3.69"/><circle cx="1619.18" cy="127.15" r="3.69"/><circle cx="1650.68" cy="126.88" r="3.69"/><circle cx="1666.43" cy="126.68" r="3.69"/></g>
<path d="M886.87,258.73L894.75,257.87L902.62,299.4L910.5,272.17L918.37,286.43L926.25,324.34L934.12,300.92L941.99,266.62L949.87,291.98L957.74,238.92L965.62,290.04L973.49,243.81L981.37,248.71L989.24,279.16L997.11,256.16L1004.99,279.4L1012.86,309.19L1020.74,261.06L1028.61,283.63L1036.49,251.7L1044.36,287.48L1052.23,268.95L1060.11,255.97L1067.98,255.54L1075.86,255.54L1083.73,256.4L1091.6,286.62L1099.48,264.48L1107.35,267.04L1115.23,245.95L1123.1,280.45L1130.98,272.36L1138.85,251.5L1146.72,274.11L1154.6,269.84L1162.47,251.08L1170.35,258.73L1178.22,284.72L1186.1,295.98L1193.97,300.69L1201.84,247.23L1209.72,254.3L1217.59,261.91L1225.47,324.77L1233.34,275.36L1241.22,254.69L1249.09,293.46L1256.96,263.24L1264.84,260.9L1272.71,275.36L1280.59,281.11L1288.46,251.5L1296.34,254.88L1304.21,274.5L1312.08,257.45L1319.96,262.57L1327.83,275.98L1335.71,252.36L1343.58,261.72L1351.46,300.49L1359.33,283.05L1367.2,280.45L1375.08,292.37L1382.95,263.62L1390.83,294.94L1398.7,262.57L1406.58,269.61L1414.45,290.9L1422.32,299.21L1430.2,281.3L1438.07,251.08L1445.95,279.4L1453.82,252.75L1461.7,258.96L1469.57,284.72L1477.44,294.94L1485.32,268.95L1493.19,278.77L1501.07,278.54L1508.94,281.3L1516.81,268.75L1524.69,288.99L1532.56,265.18L1540.44,293.23L1548.31,279.4L1556.19,252.75L1564.06,258.96L1571.93,284.72L1579.81,274.27L1587.68,257.25L1595.56,262.57L1603.43,275.78L1611.31,252.12L1619.18,261.49L1627.05,300.26L1634.93,283.05L1642.8,280.45L1650.68,292.18L1658.55,263.86L1666.43,263.86" fill="none" stroke="#a52a2a" stroke-width="2" stroke-dasharray="6.01 2.43"/>
<g fill="#a52a2a"><rect x="883.18" y="255.04" width="7.38" height="7.38"/><rect x="891.06" y="254.18" width="7.38" height="7.38"/><rect x="898.93" y="295.71" width="7.38" height="7.38"/><rect x="906.8" y="268.48" width="7.38" height="7.38"/><rect x="914.68" y="282.74" width="7.38" height="7.38"/><rect x="922.55" y="320.65" width="7.38" height="7.38"/><rect x="930.43" y="297.23" width="7.38" height="7.38"/><rect x="938.3" y="262.92" width="7.38" height="7.38"/><rect x="946.18" y="288.29" width="7.38" height="7.38"/><rect x="954.05" y="235.22" width="7.38" height="7.38"/><rect x="961.92" y="286.35" width="7.38" height="7.38"/><rect x="969.8" y="240.12" width="7.38" height="7.38"/><rect x="977.67" y="245.01" width="7.38" height="7.38"/><rect x="985.55" y="275.47" width="7.38" height="7.38"/><rect x="993.42" y="252.47" width="7.38" height="7.38"/><rect x="1001.3" y="275.7" width="7.38" height="7.38"/><rect x="1009.17" y="305.5" width="7.38" height="7.38"/><rect x="1017.04" y="257.37" width="7.38" height="7.38"/><rect x="1024.92" y="279.94" width="7.38" height="7.38"/><rect x="1032.79" y="248" width="7.38" height="7.38"/><rect x="1040.67" y="283.78" width="7.38" height="7.38"/><rect x="1048.54" y="265.25" width="7.38" height="7.38"/><rect x="1056.42" y="252.28" width="7.38" height="7.38"/><rect x="1064.29" y="251.85" width="7.38" height="7.38"/><rect x="1072.16" y="251.85" width="7.38" height="7.38"/><rect x="1080.04" y="252.71" width="7.38" height="7.38"/><rect x="1087.91" y="282.93" width="7.38" height="7.38"/><rect x="1095.79" y="260.79" width="7.38" height="7.38"/><rect x="1103.66" y="263.35" width="7.38" height="7.38"/><rect x="1111.54" y="242.26" width="7.38" height="7.38"/><rect x="1119.41" y="276.75" width="7.38" height="7.38"/><rect x="1127.28" y="268.67" width="7.38" height="7.38"/><rect x="1135.16" y="247.81" width="7.38" height="7.38"/><rect x="1143.03" y="270.42" width="7.38" height="7.38"/><rect x="1150.91" y="266.15" width="7.38" height="7.38"/><rect x="1158.78" y="247.38" width="7.38" height="7.38"/><rect x="1166.66" y="255.04" width="7.38" height="7.38"/><rect x="1174.53" y="281.03" width="7.38" height="7.38"/><rect x="1182.4" y="292.29" width="7.38" height="7.38"/><rect x="1190.28" y="296.99" width="7.38" height="7.38"/><rect x="1198.15" y="243.54" width="7.38" height="7.38"/><rect x="1206.03" y="250.61" width="7.38" height="7.38"/><rect x="1213.9" y="258.22" width="7.38" height="7.38"/><rect x="1221.77" y="321.08" width="7.38" height="7.38"/><rect x="1229.65" y="271.66" width="7.38" height="7.38"/><rect x="1237.52" y="251" width="7.38" height="7.38"/><rect x="1245.4" y="289.77" width="7.38" height="7.38"/><rect x="1253.27" y="259.54" width="7.38" height="7.38"/><rect x="1261.15" y="257.21" width="7.38" height="7.38"/><rect x="1269.02" y="271.66" width="7.38" height="7.38"/><rect x="1276.89" y="277.41" width="7.38" height="7.38"/><rect x="1284.77" y="247.81" width="7.38" height="7.38"/><rect x="1292.64" y="251.19" width="7.38" height="7.38"/><rect x="1300.52" y="270.81" width="7.38" height="7.38"/><rect x="1308.39" y="253.75" width="7.38" height="7.38"/><rect x="1316.27" y="258.88" width="7.38" height="7.38"/><rect x="1324.14" y="272.29" width="7.38" height="7.38"/><rect x="1332.01" y="248.67" width="7.38" height="7.38"/><rect x="1339.89" y="258.03" width="7.38" height="7.38"/><rect x="1347.76" y="296.8" width="7.38" height="7.38"/><rect x="1355.64" y="279.36" width="7.38" height="7.38"/><rect x="1363.51" y="276.75" width="7.38" height="7.38"/><rect x="1371.39" y="288.68" width="7.38" height="7.38"/><rect x="1379.26" y="259.93" width="7.38" height="7.38"/><rect x="1387.13" y="291.24" width="7.38" height="7.38"/><rect x="1395.01" y="258.88" width="7.38" height="7.38"/><rect x="1402.88" y="265.91" width="7.38" height="7.38"/><rect x="1410.76" y="287.2" width="7.38" height="7.38"/><rect x="1418.63" y="295.52" width="7.38" height="7.38"/><rect x="1426.51" y="277.61" width="7.38" height="7.38"/><rect x="1434.38" y="247.38" width="7.38" height="7.38"/><rect x="1442.25" y="275.7" width="7.38" height="7.38"/><rect x="1450.13" y="249.05" width="7.38" height="7.38"/><rect x="1458" y="255.27" width="7.38" height="7.38"/><rect x="1465.88" y="281.03" width="7.38" height="7.38"/><rect x="1473.75" y="291.24" width="7.38" height="7.38"/><rect x="1481.63" y="265.25" width="7.38" height="7.38"/><rect x="1489.5" y="275.08" width="7.38" height="7.38"/><rect x="1497.37" y="274.85" width="7.38" height="7.38"/><rect x="1505.25" y="277.61" width="7.38" height="7.38"/><rect x="1513.12" y="265.06" width="7.38" height="7.38"/><rect x="1521" y="285.3" width="7.38" height="7.38"/><rect x="1528.87" y="261.49" width="7.38" height="7.38"/><rect x="1536.75" y="289.53" width="7.38" height="7.38"/><rect x="1544.62" y="275.7" width="7.38" height="7.38"/><rect x="1552.49" y="249.05" width="7.38" height="7.38"/><rect x="1560.37" y="255.27" width="7.38" height="7.38"/><rect x="1568.24" y="281.03" width="7.38" height="7.38"/><rect x="1576.12" y="270.58" width="7.38" height="7.38"/><rect x="1583.99" y="253.56" width="7.38" height="7.38"/><rect x="1591.86" y="258.88" width="7.38" height="7.38"/><rect x="1599.74" y="272.09" width="7.38" height="7.38"/><rect x="1607.61" y="248.43" width="7.38" height="7.38"/><rect x="1615.49" y="257.79" width="7.38" height="7.38"/><rect x="1623.36" y="296.57" width="7.38" height="7.38"/><rect x="1631.24" y="279.36" width="7.38" height="7.38"/><rect x="1639.11" y="276.75" width="7.38" height="7.38"/><rect x="1646.98" y="288.48" width="7.38" height="7.38"/><rect x="1654.86" y="260.16" width="7.38" height="7.38"/><rect x="1662.73" y="260.16" width="7.38" height="7.38"/></g>
<path d="M886.87,245.05L894.75,203.95L902.62,184.57L910.5,170.78L918.37,162.27L926.25,151.82L934.12,147.78L941.99,146.07L949.87,139.04L957.74,136.08L965.62,134.14L973.49,131.15L981.37,129.48L989.24,127.11L997.11,124.16L1004.99,124.97L1012.86,121.36L1020.74,119.88L1028.61,120.74L1036.49,119.03L1044.36,116.04L1052.23,115.42L1060.11,115.42L1067.98,114.45L1075.86,113.67L1083.73,113.32L1091.6,112.7L1099.48,109.78L1107.35,109.47L1115.23,110.56L1123.1,108.15L1130.98,106.68L1138.85,107.53L1146.72,105.39L1154.6,105.74L1162.47,104.11L1170.35,102.79L1178.22,103.18L1186.1,103.3L1193.97,103.3L1201.84,102.01L1209.72,103.45L1217.59,100.85L1225.47,100.07L1233.34,99.88L1241.22,99.72L1249.09,98.13L1256.96,98.13L1264.84,96.5L1272.71,96.3L1280.59,95.53L1288.46,95.02L1296.34,96.19L1304.21,93.9L1312.08,95.53L1319.96,94.25L1327.83,94.25L1335.71,94.05L1343.58,93.9L1351.46,92.26L1359.33,92.77L1367.2,92.57L1375.08,90.79L1382.95,92.26L1390.83,92.11L1398.7,91.76L1406.58,91.6L1414.45,91.14L1422.32,91.29L1430.2,89.35L1438.07,90.48L1445.95,90.79L1453.82,89.35L1461.7,89.19L1469.57,88.03L1477.44,88.22L1485.32,88.53L1493.19,88.38L1501.07,88.38L1508.94,88.03L1516.81,88.22L1524.69,88.03L1532.56,89.19L1540.44,88.69L1548.31,87.06L1556.19,86.48L1564.06,86.24L1571.93,86.24L1579.81,86.59L1587.68,86.59L1595.56,85.93L1603.43,85.78L1611.31,85.12L1619.18,85.12L1627.05,85.12L1634.93,84.65L1642.8,85.12L1650.68,84.8L1658.55,85.12L1666.43,83.83" fill="none" stroke="#00ffff" stroke-width="1.69" stroke-dasharray="10.13 2.53 1.58 2.53"/>
<path d="M886.87,241.85L887.75,243.71L889.61,244.07L888.3,245.57L888.57,247.64L886.87,246.72L885.18,247.64L885.45,245.57L884.14,244.07L885.99,243.71ZM894.75,200.75L895.63,202.61L897.49,202.96L896.17,204.47L896.44,206.54L894.75,205.62L893.06,206.54L893.32,204.47L892.01,202.96L893.87,202.61ZM902.62,181.37L903.5,183.22L905.36,183.58L904.05,185.08L904.32,187.16L902.62,186.23L900.93,187.16L901.2,185.08L899.88,183.58L901.74,183.22ZM910.5,167.58L911.38,169.43L913.24,169.79L911.92,171.29L912.19,173.37L910.5,172.44L908.8,173.37L909.07,171.29L907.76,169.79L909.62,169.43ZM918.37,159.07L919.25,160.92L921.11,161.28L919.8,162.78L920.06,164.86L918.37,163.93L916.68,164.86L916.95,162.78L915.63,161.28L917.49,160.92ZM926.25,148.62L927.13,150.47L928.98,150.83L927.67,152.33L927.94,154.41L926.25,153.48L924.55,154.41L924.82,152.33L923.51,150.83L925.37,150.47ZM934.12,144.58L935,146.43L936.86,146.79L935.54,148.29L935.81,150.37L934.12,149.44L932.43,150.37L932.7,148.29L931.38,146.79L933.24,146.43ZM941.99,142.87L942.87,144.72L944.73,145.08L943.42,146.58L943.69,148.66L941.99,147.73L940.3,148.66L940.57,146.58L939.26,145.08L941.11,144.72ZM949.87,135.84L950.75,137.69L952.61,138.05L951.29,139.55L951.56,141.63L949.87,140.7L948.18,141.63L948.44,139.55L947.13,138.05L948.99,137.69ZM957.74,132.88L958.62,134.74L960.48,135.1L959.17,136.6L959.44,138.67L957.74,137.75L956.05,138.67L956.32,136.6L955,135.1L956.86,134.74ZM965.62,130.94L966.5,132.8L968.36,133.15L967.04,134.66L967.31,136.73L965.62,135.81L963.92,136.73L964.19,134.66L962.88,133.15L964.74,132.8ZM973.49,127.95L974.37,129.8L976.23,130.16L974.92,131.67L975.18,133.74L973.49,132.81L971.8,133.74L972.07,131.67L970.75,130.16L972.61,129.8ZM981.37,126.28L982.25,128.13L984.1,128.49L982.79,129.99L983.06,132.07L981.37,131.14L979.67,132.07L979.94,129.99L978.63,128.49L980.49,128.13ZM989.24,123.91L990.12,125.76L991.98,126.12L990.66,127.62L990.93,129.7L989.24,128.77L987.55,129.7L987.82,127.62L986.5,126.12L988.36,125.76ZM997.11,120.96L997.99,122.81L999.85,123.17L998.54,124.67L998.81,126.75L997.11,125.82L995.42,126.75L995.69,124.67L994.37,123.17L996.23,122.81ZM1004.99,121.77L1005.87,123.63L1007.73,123.99L1006.41,125.49L1006.68,127.56L1004.99,126.64L1003.3,127.56L1003.56,125.49L1002.25,123.99L1004.11,123.63ZM1012.86,118.16L1013.74,120.02L1015.6,120.37L1014.29,121.88L1014.56,123.95L1012.86,123.03L1011.17,123.95L1011.44,121.88L1010.12,120.37L1011.98,120.02ZM1020.74,116.68L1021.62,118.54L1023.48,118.9L1022.16,120.4L1022.43,122.47L1020.74,121.55L1019.04,122.47L1019.31,120.4L1018,118.9L1019.86,118.54ZM1028.61,117.54L1029.49,119.39L1031.35,119.75L1030.04,121.25L1030.3,123.33L1028.61,122.4L1026.92,123.33L1027.19,121.25L1025.87,119.75L1027.73,119.39ZM1036.49,115.83L1037.37,117.68L1039.22,118.04L1037.91,119.54L1038.18,121.62L1036.49,120.69L1034.79,121.62L1035.06,119.54L1033.75,118.04L1035.6,117.68ZM1044.36,112.84L1045.24,114.69L1047.1,115.05L1045.78,116.55L1046.05,118.63L1044.36,117.7L1042.67,118.63L1042.94,116.55L1041.62,115.05L1043.48,114.69ZM1052.23,112.22L1053.11,114.07L1054.97,114.43L1053.66,115.93L1053.93,118.01L1052.23,117.08L1050.54,118.01L1050.81,115.93L1049.49,114.43L1051.35,114.07ZM1060.11,112.22L1060.99,114.07L1062.85,114.43L1061.53,115.93L1061.8,118.01L1060.11,117.08L1058.42,118.01L1058.68,115.93L1057.37,114.43L1059.23,114.07ZM1067.98,111.25L1068.86,113.1L1070.72,113.46L1069.41,114.96L1069.67,117.04L1067.98,116.11L1066.29,117.04L1066.56,114.96L1065.24,113.46L1067.1,113.1ZM1075.86,110.47L1076.74,112.32L1078.6,112.68L1077.28,114.18L1077.55,116.26L1075.86,115.33L1074.16,116.26L1074.43,114.18L1073.12,112.68L1074.98,112.32ZM1083.73,110.12L1084.61,111.97L1086.47,112.33L1085.15,113.83L1085.42,115.91L1083.73,114.98L1082.04,115.91L1082.31,113.83L1080.99,112.33L1082.85,111.97ZM1091.6,109.5L1092.49,111.35L1094.34,111.71L1093.03,113.21L1093.3,115.29L1091.6,114.36L1089.91,115.29L1090.18,113.21L1088.87,111.71L1090.72,111.35ZM1099.48,106.58L1100.36,108.44L1102.22,108.8L1100.9,110.3L1101.17,112.37L1099.48,111.45L1097.79,112.37L1098.05,110.3L1096.74,108.8L1098.6,108.44ZM1107.35,106.27L1108.23,108.13L1110.09,108.48L1108.78,109.99L1109.05,112.06L1107.35,111.14L1105.66,112.06L1105.93,109.99L1104.61,108.48L1106.47,108.13ZM1115.23,107.36L1116.11,109.22L1117.97,109.57L1116.65,111.08L1116.92,113.15L1115.23,112.23L1113.53,113.15L1113.8,111.08L1112.49,109.57L1114.35,109.22ZM1123.1,104.95L1123.98,106.81L1125.84,107.16L1124.53,108.67L1124.79,110.74L1123.1,109.82L1121.41,110.74L1121.68,108.67L1120.36,107.16L1122.22,106.81ZM1130.98,103.48L1131.86,105.33L1133.72,105.69L1132.4,107.19L1132.67,109.27L1130.98,108.34L1129.28,109.27L1129.55,107.19L1128.24,105.69L1130.1,105.33ZM1138.85,104.33L1139.73,106.19L1141.59,106.54L1140.27,108.05L1140.54,110.12L1138.85,109.2L1137.16,110.12L1137.43,108.05L1136.11,106.54L1137.97,106.19ZM1146.72,102.19L1147.61,104.05L1149.46,104.41L1148.15,105.91L1148.42,107.98L1146.72,107.06L1145.03,107.98L1145.3,105.91L1143.99,104.41L1145.84,104.05ZM1154.6,102.54L1155.48,104.4L1157.34,104.76L1156.02,106.26L1156.29,108.33L1154.6,107.41L1152.91,108.33L1153.17,106.26L1151.86,104.76L1153.72,104.4ZM1162.47,100.91L1163.35,102.77L1165.21,103.12L1163.9,104.63L1164.17,106.7L1162.47,105.78L1160.78,106.7L1161.05,104.63L1159.73,103.12L1161.59,102.77ZM1170.35,99.59L1171.23,101.45L1173.09,101.8L1171.77,103.31L1172.04,105.38L1170.35,104.46L1168.65,105.38L1168.92,103.31L1167.61,101.8L1169.47,101.45ZM1178.22,99.98L1179.1,101.83L1180.96,102.19L1179.65,103.69L1179.91,105.77L1178.22,104.84L1176.53,105.77L1176.8,103.69L1175.48,102.19L1177.34,101.83ZM1186.1,100.1L1186.98,101.95L1188.84,102.31L1187.52,103.81L1187.79,105.89L1186.1,104.96L1184.4,105.89L1184.67,103.81L1183.36,102.31L1185.22,101.95ZM1193.97,100.1L1194.85,101.95L1196.71,102.31L1195.39,103.81L1195.66,105.89L1193.97,104.96L1192.28,105.89L1192.55,103.81L1191.23,102.31L1193.09,101.95ZM1201.84,98.81L1202.72,100.67L1204.58,101.03L1203.27,102.53L1203.54,104.6L1201.84,103.68L1200.15,104.6L1200.42,102.53L1199.11,101.03L1200.96,100.67ZM1209.72,100.25L1210.6,102.11L1212.46,102.46L1211.14,103.97L1211.41,106.04L1209.72,105.12L1208.03,106.04L1208.29,103.97L1206.98,102.46L1208.84,102.11ZM1217.59,97.65L1218.47,99.5L1220.33,99.86L1219.02,101.36L1219.29,103.44L1217.59,102.51L1215.9,103.44L1216.17,101.36L1214.85,99.86L1216.71,99.5ZM1225.47,96.87L1226.35,98.73L1228.21,99.08L1226.89,100.59L1227.16,102.66L1225.47,101.74L1223.77,102.66L1224.04,100.59L1222.73,99.08L1224.59,98.73ZM1233.34,96.68L1234.22,98.53L1236.08,98.89L1234.77,100.39L1235.03,102.47L1233.34,101.54L1231.65,102.47L1231.92,100.39L1230.6,98.89L1232.46,98.53ZM1241.22,96.52L1242.1,98.38L1243.95,98.73L1242.64,100.24L1242.91,102.31L1241.22,101.39L1239.52,102.31L1239.79,100.24L1238.48,98.73L1240.34,98.38ZM1249.09,94.93L1249.97,96.78L1251.83,97.14L1250.51,98.64L1250.78,100.72L1249.09,99.79L1247.4,100.72L1247.67,98.64L1246.35,97.14L1248.21,96.78ZM1256.96,94.93L1257.84,96.78L1259.7,97.14L1258.39,98.64L1258.66,100.72L1256.96,99.79L1255.27,100.72L1255.54,98.64L1254.23,97.14L1256.08,96.78ZM1264.84,93.3L1265.72,95.15L1267.58,95.51L1266.26,97.01L1266.53,99.09L1264.84,98.16L1263.15,99.09L1263.41,97.01L1262.1,95.51L1263.96,95.15ZM1272.71,93.1L1273.59,94.96L1275.45,95.32L1274.14,96.82L1274.41,98.89L1272.71,97.97L1271.02,98.89L1271.29,96.82L1269.97,95.32L1271.83,94.96ZM1280.59,92.33L1281.47,94.18L1283.33,94.54L1282.01,96.04L1282.28,98.12L1280.59,97.19L1278.89,98.12L1279.16,96.04L1277.85,94.54L1279.71,94.18ZM1288.46,91.82L1289.34,93.68L1291.2,94.03L1289.89,95.54L1290.15,97.61L1288.46,96.69L1286.77,97.61L1287.04,95.54L1285.72,94.03L1287.58,93.68ZM1296.34,92.99L1297.22,94.84L1299.07,95.2L1297.76,96.7L1298.03,98.78L1296.34,97.85L1294.64,98.78L1294.91,96.7L1293.6,95.2L1295.46,94.84ZM1304.21,90.7L1305.09,92.55L1306.95,92.91L1305.63,94.41L1305.9,96.48L1304.21,95.56L1302.52,96.48L1302.79,94.41L1301.47,92.91L1303.33,92.55ZM1312.08,92.33L1312.96,94.18L1314.82,94.54L1313.51,96.04L1313.78,98.12L1312.08,97.19L1310.39,98.12L1310.66,96.04L1309.35,94.54L1311.2,94.18ZM1319.96,91.05L1320.84,92.9L1322.7,93.26L1321.38,94.76L1321.65,96.83L1319.96,95.91L1318.27,96.83L1318.53,94.76L1317.22,93.26L1319.08,92.9ZM1327.83,91.05L1328.71,92.9L1330.57,93.26L1329.26,94.76L1329.53,96.83L1327.83,95.91L1326.14,96.83L1326.41,94.76L1325.09,93.26L1326.95,92.9ZM1335.71,90.85L1336.59,92.7L1338.45,93.06L1337.13,94.57L1337.4,96.64L1335.71,95.71L1334.01,96.64L1334.28,94.57L1332.97,93.06L1334.83,92.7ZM1343.58,90.7L1344.46,92.55L1346.32,92.91L1345.01,94.41L1345.27,96.48L1343.58,95.56L1341.89,96.48L1342.16,94.41L1340.84,92.91L1342.7,92.55ZM1351.46,89.06L1352.34,90.92L1354.19,91.27L1352.88,92.78L1353.15,94.85L1351.46,93.93L1349.76,94.85L1350.03,92.78L1348.72,91.27L1350.58,90.92ZM1359.33,89.57L1360.21,91.42L1362.07,91.78L1360.75,93.28L1361.02,95.36L1359.33,94.43L1357.64,95.36L1357.91,93.28L1356.59,91.78L1358.45,91.42ZM1367.2,89.37L1368.08,91.23L1369.94,91.59L1368.63,93.09L1368.9,95.16L1367.2,94.24L1365.51,95.16L1365.78,93.09L1364.46,91.59L1366.32,91.23ZM1375.08,87.59L1375.96,89.44L1377.82,89.8L1376.5,91.3L1376.77,93.38L1375.08,92.45L1373.39,93.38L1373.65,91.3L1372.34,89.8L1374.2,89.44ZM1382.95,89.06L1383.83,90.92L1385.69,91.27L1384.38,92.78L1384.65,94.85L1382.95,93.93L1381.26,94.85L1381.53,92.78L1380.21,91.27L1382.07,90.92ZM1390.83,88.91L1391.71,90.76L1393.57,91.12L1392.25,92.62L1392.52,94.7L1390.83,93.77L1389.13,94.7L1389.4,92.62L1388.09,91.12L1389.95,90.76ZM1398.7,88.56L1399.58,90.41L1401.44,90.77L1400.13,92.27L1400.39,94.35L1398.7,93.42L1397.01,94.35L1397.28,92.27L1395.96,90.77L1397.82,90.41ZM1406.58,88.4L1407.46,90.26L1409.31,90.61L1408,92.12L1408.27,94.19L1406.58,93.27L1404.88,94.19L1405.15,92.12L1403.84,90.61L1405.69,90.26ZM1414.45,87.94L1415.33,89.79L1417.19,90.15L1415.87,91.65L1416.14,93.73L1414.45,92.8L1412.76,93.73L1413.03,91.65L1411.71,90.15L1413.57,89.79ZM1422.32,88.09L1423.2,89.95L1425.06,90.3L1423.75,91.81L1424.02,93.88L1422.32,92.96L1420.63,93.88L1420.9,91.81L1419.58,90.3L1421.44,89.95ZM1430.2,86.15L1431.08,88L1432.94,88.36L1431.62,89.86L1431.89,91.94L1430.2,91.01L1428.51,91.94L1428.77,89.86L1427.46,88.36L1429.32,88ZM1438.07,87.28L1438.95,89.13L1440.81,89.49L1439.5,90.99L1439.77,93.07L1438.07,92.14L1436.38,93.07L1436.65,90.99L1435.33,89.49L1437.19,89.13ZM1445.95,87.59L1446.83,89.44L1448.69,89.8L1447.37,91.3L1447.64,93.38L1445.95,92.45L1444.25,93.38L1444.52,91.3L1443.21,89.8L1445.07,89.44ZM1453.82,86.15L1454.7,88L1456.56,88.36L1455.25,89.86L1455.51,91.94L1453.82,91.01L1452.13,91.94L1452.4,89.86L1451.08,88.36L1452.94,88ZM1461.7,85.99L1462.58,87.85L1464.43,88.21L1463.12,89.71L1463.39,91.78L1461.7,90.86L1460,91.78L1460.27,89.71L1458.96,88.21L1460.81,87.85ZM1469.57,84.83L1470.45,86.68L1472.31,87.04L1470.99,88.54L1471.26,90.62L1469.57,89.69L1467.88,90.62L1468.15,88.54L1466.83,87.04L1468.69,86.68ZM1477.44,85.02L1478.32,86.88L1480.18,87.23L1478.87,88.74L1479.14,90.81L1477.44,89.89L1475.75,90.81L1476.02,88.74L1474.7,87.23L1476.56,86.88ZM1485.32,85.33L1486.2,87.19L1488.06,87.55L1486.74,89.05L1487.01,91.12L1485.32,90.2L1483.63,91.12L1483.89,89.05L1482.58,87.55L1484.44,87.19ZM1493.19,85.18L1494.07,87.03L1495.93,87.39L1494.62,88.89L1494.88,90.97L1493.19,90.04L1491.5,90.97L1491.77,88.89L1490.45,87.39L1492.31,87.03ZM1501.07,85.18L1501.95,87.03L1503.81,87.39L1502.49,88.89L1502.76,90.97L1501.07,90.04L1499.37,90.97L1499.64,88.89L1498.33,87.39L1500.19,87.03ZM1508.94,84.83L1509.82,86.68L1511.68,87.04L1510.36,88.54L1510.63,90.62L1508.94,89.69L1507.25,90.62L1507.52,88.54L1506.2,87.04L1508.06,86.68ZM1516.81,85.02L1517.7,86.88L1519.55,87.23L1518.24,88.74L1518.51,90.81L1516.81,89.89L1515.12,90.81L1515.39,88.74L1514.08,87.23L1515.93,86.88ZM1524.69,84.83L1525.57,86.68L1527.43,87.04L1526.11,88.54L1526.38,90.62L1524.69,89.69L1523,90.62L1523.26,88.54L1521.95,87.04L1523.81,86.68ZM1532.56,85.99L1533.44,87.85L1535.3,88.21L1533.99,89.71L1534.26,91.78L1532.56,90.86L1530.87,91.78L1531.14,89.71L1529.82,88.21L1531.68,87.85ZM1540.44,85.49L1541.32,87.34L1543.18,87.7L1541.86,89.2L1542.13,91.28L1540.44,90.35L1538.74,91.28L1539.01,89.2L1537.7,87.7L1539.56,87.34ZM1548.31,83.86L1549.19,85.71L1551.05,86.07L1549.74,87.57L1550,89.65L1548.31,88.72L1546.62,89.65L1546.89,87.57L1545.57,86.07L1547.43,85.71ZM1556.19,83.28L1557.07,85.13L1558.93,85.49L1557.61,86.99L1557.88,89.06L1556.19,88.14L1554.49,89.06L1554.76,86.99L1553.45,85.49L1555.31,85.13ZM1564.06,83.04L1564.94,84.9L1566.8,85.25L1565.48,86.76L1565.75,88.83L1564.06,87.91L1562.37,88.83L1562.64,86.76L1561.32,85.25L1563.18,84.9ZM1571.93,83.04L1572.81,84.9L1574.67,85.25L1573.36,86.76L1573.63,88.83L1571.93,87.91L1570.24,88.83L1570.51,86.76L1569.2,85.25L1571.05,84.9ZM1579.81,83.39L1580.69,85.25L1582.55,85.6L1581.23,87.11L1581.5,89.18L1579.81,88.26L1578.12,89.18L1578.38,87.11L1577.07,85.6L1578.93,85.25ZM1587.68,83.39L1588.56,85.25L1590.42,85.6L1589.11,87.11L1589.38,89.18L1587.68,88.26L1585.99,89.18L1586.26,87.11L1584.94,85.6L1586.8,85.25ZM1595.56,82.73L1596.44,84.59L1598.3,84.94L1596.98,86.45L1597.25,88.52L1595.56,87.6L1593.86,88.52L1594.13,86.45L1592.82,84.94L1594.68,84.59ZM1603.43,82.58L1604.31,84.43L1606.17,84.79L1604.86,86.29L1605.12,88.36L1603.43,87.44L1601.74,88.36L1602.01,86.29L1600.69,84.79L1602.55,84.43ZM1611.31,81.92L1612.19,83.77L1614.04,84.13L1612.73,85.63L1613,87.7L1611.31,86.78L1609.61,87.7L1609.88,85.63L1608.57,84.13L1610.43,83.77ZM1619.18,81.92L1620.06,83.77L1621.92,84.13L1620.6,85.63L1620.87,87.7L1619.18,86.78L1617.49,87.7L1617.76,85.63L1616.44,84.13L1618.3,83.77ZM1627.05,81.92L1627.93,83.77L1629.79,84.13L1628.48,85.63L1628.75,87.7L1627.05,86.78L1625.36,87.7L1625.63,85.63L1624.32,84.13L1626.17,83.77ZM1634.93,81.45L1635.81,83.3L1637.67,83.66L1636.35,85.16L1636.62,87.24L1634.93,86.31L1633.24,87.24L1633.5,85.16L1632.19,83.66L1634.05,83.3ZM1642.8,81.92L1643.68,83.77L1645.54,84.13L1644.23,85.63L1644.5,87.7L1642.8,86.78L1641.11,87.7L1641.38,85.63L1640.06,84.13L1641.92,83.77ZM1650.68,81.6L1651.56,83.46L1653.42,83.82L1652.1,85.32L1652.37,87.39L1650.68,86.47L1648.98,87.39L1649.25,85.32L1647.94,83.82L1649.8,83.46ZM1658.55,81.92L1659.43,83.77L1661.29,84.13L1659.98,85.63L1660.24,87.7L1658.55,86.78L1656.86,87.7L1657.13,85.63L1655.81,84.13L1657.67,83.77ZM1666.43,80.63L1667.31,82.49L1669.16,82.84L1667.85,84.35L1668.12,86.42L1666.43,85.5L1664.73,86.42L1665,84.35L1663.69,82.84L1665.55,82.49Z" fill="#00ffff" stroke="#00ffff" stroke-width="0.9" stroke-linejoin="round"/>
<rect x="1484" y="23.4" width="184.4" height="51.2" rx="2.32" fill="#ffffff" fill-opacity="0.8" stroke="#cccccc" stroke-opacity="0.65" stroke-width="1.05"/>
<path d="M1488.2,33.1H1513" fill="none" stroke="#ff00ff" stroke-width="1.85" stroke-dasharray="5.91 2.11"/>
<circle cx="1500.6" cy="33.1" r="3.69" fill="#ff00ff"/>
<text transform="translate(1522,37.2) scale(1,0.94)" font-family="IPAGothic, 'DejaVu Sans Mono', 'Liberation Mono', monospace" font-size="11.56" font-weight="bold" xml:space="preserve"><tspan x="0" textLength="69.36" lengthAdjust="spacing">SaAS-FL(To=1</tspan><tspan x="69.17" font-family="NanumGothic, 'Noto Sans CJK SC', 'Liberation Sans', sans-serif" font-size="10.17" font-weight="800">0</tspan><tspan x="75.14" textLength="40.46" lengthAdjust="spacing">,alpha=</tspan><tspan x="115.41" font-family="NanumGothic, 'Noto Sans CJK SC', 'Liberation Sans', sans-serif" font-size="10.17" font-weight="800">0</tspan><tspan x="121.38" textLength="17.34" lengthAdjust="spacing">.5)</tspan></text>
<path d="M1488.2,48.8H1513" fill="none" stroke="#a52a2a" stroke-width="2" stroke-dasharray="6.01 2.43"/>
<rect x="1496.91" y="45.11" width="7.38" height="7.38" fill="#a52a2a"/>
<text transform="translate(1522,52.9) scale(1,0.94)" font-family="IPAGothic, 'DejaVu Sans Mono', 'Liberation Mono', monospace" font-size="11.56" font-weight="bold" xml:space="preserve"><tspan x="0" textLength="46.24" lengthAdjust="spacing">FedAsync</tspan></text>
<path d="M1488.2,64.4H1513" fill="none" stroke="#00ffff" stroke-width="1.69" stroke-dasharray="10.13 2.53 1.58 2.53"/>
<path d="M1500.6,61.2L1501.48,63.05L1503.34,63.41L1502.02,64.91L1502.29,66.99L1500.6,66.06L1498.91,66.99L1499.18,64.91L1497.86,63.41L1499.72,63.05Z" fill="#00ffff" stroke="#00ffff" stroke-width="0.9" stroke-linejoin="round"/>
<text transform="translate(1522,68.5) scale(1,0.94)" font-family="IPAGothic, 'DejaVu Sans Mono', 'Liberation Mono', monospace" font-size="11.56" font-weight="bold" xml:space="preserve"><tspan x="0" textLength="34.68" lengthAdjust="spacing">Fedavg</tspan></text>
<path d="M878.32,17.2H1675" fill="none" stroke="#000" stroke-width="1.4"/>
<path d="M878.32,374.95H1675" fill="none" stroke="#222" stroke-width="1.2"/>
<path d="M879.05,17.2V374.95" fill="none" stroke="#000" stroke-width="1.45"/>
<path d="M1674.2,17.2V374.95" fill="none" stroke="#000" stroke-width="1.6"/>
<path d="M879,374.73h-3.7M879,363.08h-3.7M879,351.42h-3.7M879,339.77h-3.7M879,328.11h-3.7M879,316.46h-3.7M879,304.8h-3.7M879,293.15h-3.7M879,281.49h-3.7M879,269.84h-3.7M879,258.19h-3.7M879,246.53h-3.7M879,234.88h-3.7M879,223.22h-3.7M879,211.57h-3.7M879,199.91h-3.7M879,188.26h-3.7M879,176.6h-3.7M879,164.95h-3.7M879,153.29h-3.7M879,141.64h-3.7M879,129.99h-3.7M879,118.33h-3.7M879,106.68h-3.7M879,95.02h-3.7M879,83.37h-3.7M879,71.71h-3.7M879,60.06h-3.7M879,48.4h-3.7M879,36.75h-3.7M879,25.1h-3.7M879,374.73v3.7M918.37,374.73v3.7M957.74,374.73v3.7M997.11,374.73v3.7M1036.49,374.73v3.7M1075.86,374.73v3.7M1115.23,374.73v3.7M1154.6,374.73v3.7M1193.97,374.73v3.7M1233.34,374.73v3.7M1272.71,374.73v3.7M1312.08,374.73v3.7M1351.46,374.73v3.7M1390.83,374.73v3.7M1430.2,374.73v3.7M1469.57,374.73v3.7M1508.94,374.73v3.7M1548.31,374.73v3.7M1587.68,374.73v3.7M1627.05,374.73v3.7M1666.43,374.73v3.7" fill="none" stroke="#000" stroke-width="1.1"/>
<g fill="#000">
<text x="867.81" y="378.03" font-family="NanumGothic, 'Noto Sans CJK SC', 'Liberation Sans', sans-serif" font-size="9.2" font-weight="800" letter-spacing="-0.38" stroke="#000" stroke-width="0.15">8</text>
<text x="862.61" y="366.38" font-family="NanumGothic, 'Noto Sans CJK SC', 'Liberation Sans', sans-serif" font-size="9.2" font-weight="800" letter-spacing="-0.38" stroke="#000" stroke-width="0.15">11</text>
<text x="862.61" y="354.72" font-family="NanumGothic, 'Noto Sans CJK SC', 'Liberation Sans', sans-serif" font-size="9.2" font-weight="800" letter-spacing="-0.38" stroke="#000" stroke-width="0.15">14</text>
<text x="862.61" y="343.07" font-family="NanumGothic, 'Noto Sans CJK SC', 'Liberation Sans', sans-serif" font-size="9.2" font-weight="800" letter-spacing="-0.38" stroke="#000" stroke-width="0.15">17</text>
<text x="862.61" y="331.41" font-family="NanumGothic, 'Noto Sans CJK SC', 'Liberation Sans', sans-serif" font-size="9.2" font-weight="800" letter-spacing="-0.38" stroke="#000" stroke-width="0.15">20</text>
<text x="862.61" y="319.76" font-family="NanumGothic, 'Noto Sans CJK SC', 'Liberation Sans', sans-serif" font-size="9.2" font-weight="800" letter-spacing="-0.38" stroke="#000" stroke-width="0.15">23</text>
<text x="862.61" y="308.1" font-family="NanumGothic, 'Noto Sans CJK SC', 'Liberation Sans', sans-serif" font-size="9.2" font-weight="800" letter-spacing="-0.38" stroke="#000" stroke-width="0.15">26</text>
<text x="862.61" y="296.45" font-family="NanumGothic, 'Noto Sans CJK SC', 'Liberation Sans', sans-serif" font-size="9.2" font-weight="800" letter-spacing="-0.38" stroke="#000" stroke-width="0.15">29</text>
<text x="862.61" y="284.79" font-family="NanumGothic, 'Noto Sans CJK SC', 'Liberation Sans', sans-serif" font-size="9.2" font-weight="800" letter-spacing="-0.38" stroke="#000" stroke-width="0.15">32</text>
<text x="862.61" y="273.14" font-family="NanumGothic, 'Noto Sans CJK SC', 'Liberation Sans', sans-serif" font-size="9.2" font-weight="800" letter-spacing="-0.38" stroke="#000" stroke-width="0.15">35</text>
<text x="862.61" y="261.49" font-family="NanumGothic, 'Noto Sans CJK SC', 'Liberation Sans', sans-serif" font-size="9.2" font-weight="800" letter-spacing="-0.38" stroke="#000" stroke-width="0.15">38</text>
<text x="862.61" y="249.83" font-family="NanumGothic, 'Noto Sans CJK SC', 'Liberation Sans', sans-serif" font-size="9.2" font-weight="800" letter-spacing="-0.38" stroke="#000" stroke-width="0.15">41</text>
<text x="862.61" y="238.18" font-family="NanumGothic, 'Noto Sans CJK SC', 'Liberation Sans', sans-serif" font-size="9.2" font-weight="800" letter-spacing="-0.38" stroke="#000" stroke-width="0.15">44</text>
<text x="862.61" y="226.52" font-family="NanumGothic, 'Noto Sans CJK SC', 'Liberation Sans', sans-serif" font-size="9.2" font-weight="800" letter-spacing="-0.38" stroke="#000" stroke-width="0.15">47</text>
<text x="862.61" y="214.87" font-family="NanumGothic, 'Noto Sans CJK SC', 'Liberation Sans', sans-serif" font-size="9.2" font-weight="800" letter-spacing="-0.38" stroke="#000" stroke-width="0.15">50</text>
<text x="862.61" y="203.21" font-family="NanumGothic, 'Noto Sans CJK SC', 'Liberation Sans', sans-serif" font-size="9.2" font-weight="800" letter-spacing="-0.38" stroke="#000" stroke-width="0.15">53</text>
<text x="862.61" y="191.56" font-family="NanumGothic, 'Noto Sans CJK SC', 'Liberation Sans', sans-serif" font-size="9.2" font-weight="800" letter-spacing="-0.38" stroke="#000" stroke-width="0.15">56</text>
<text x="862.61" y="179.9" font-family="NanumGothic, 'Noto Sans CJK SC', 'Liberation Sans', sans-serif" font-size="9.2" font-weight="800" letter-spacing="-0.38" stroke="#000" stroke-width="0.15">59</text>
<text x="862.61" y="168.25" font-family="NanumGothic, 'Noto Sans CJK SC', 'Liberation Sans', sans-serif" font-size="9.2" font-weight="800" letter-spacing="-0.38" stroke="#000" stroke-width="0.15">62</text>
<text x="862.61" y="156.59" font-family="NanumGothic, 'Noto Sans CJK SC', 'Liberation Sans', sans-serif" font-size="9.2" font-weight="800" letter-spacing="-0.38" stroke="#000" stroke-width="0.15">65</text>
<text x="862.61" y="144.94" font-family="NanumGothic, 'Noto Sans CJK SC', 'Liberation Sans', sans-serif" font-size="9.2" font-weight="800" letter-spacing="-0.38" stroke="#000" stroke-width="0.15">68</text>
<text x="862.61" y="133.29" font-family="NanumGothic, 'Noto Sans CJK SC', 'Liberation Sans', sans-serif" font-size="9.2" font-weight="800" letter-spacing="-0.38" stroke="#000" stroke-width="0.15">71</text>
<text x="862.61" y="121.63" font-family="NanumGothic, 'Noto Sans CJK SC', 'Liberation Sans', sans-serif" font-size="9.2" font-weight="800" letter-spacing="-0.38" stroke="#000" stroke-width="0.15">74</text>
<text x="862.61" y="109.98" font-family="NanumGothic, 'Noto Sans CJK SC', 'Liberation Sans', sans-serif" font-size="9.2" font-weight="800" letter-spacing="-0.38" stroke="#000" stroke-width="0.15">77</text>
<text x="862.61" y="98.32" font-family="NanumGothic, 'Noto Sans CJK SC', 'Liberation Sans', sans-serif" font-size="9.2" font-weight="800" letter-spacing="-0.38" stroke="#000" stroke-width="0.15">80</text>
<text x="862.61" y="86.67" font-family="NanumGothic, 'Noto Sans CJK SC', 'Liberation Sans', sans-serif" font-size="9.2" font-weight="800" letter-spacing="-0.38" stroke="#000" stroke-width="0.15">83</text>
<text x="862.61" y="75.01" font-family="NanumGothic, 'Noto Sans CJK SC', 'Liberation Sans', sans-serif" font-size="9.2" font-weight="800" letter-spacing="-0.38" stroke="#000" stroke-width="0.15">86</text>
<text x="862.61" y="63.36" font-family="NanumGothic, 'Noto Sans CJK SC', 'Liberation Sans', sans-serif" font-size="9.2" font-weight="800" letter-spacing="-0.38" stroke="#000" stroke-width="0.15">89</text>
<text x="862.61" y="51.7" font-family="NanumGothic, 'Noto Sans CJK SC', 'Liberation Sans', sans-serif" font-size="9.2" font-weight="800" letter-spacing="-0.38" stroke="#000" stroke-width="0.15">92</text>
<text x="862.61" y="40.05" font-family="NanumGothic, 'Noto Sans CJK SC', 'Liberation Sans', sans-serif" font-size="9.2" font-weight="800" letter-spacing="-0.38" stroke="#000" stroke-width="0.15">95</text>
<text x="862.61" y="28.4" font-family="NanumGothic, 'Noto Sans CJK SC', 'Liberation Sans', sans-serif" font-size="9.2" font-weight="800" letter-spacing="-0.38" stroke="#000" stroke-width="0.15">98</text>
<text x="876.21" y="388.9" font-family="NanumGothic, 'Noto Sans CJK SC', 'Liberation Sans', sans-serif" font-size="9.2" font-weight="800" letter-spacing="-0.38" stroke="#000" stroke-width="0.15">0</text>
<text x="915.58" y="388.9" font-family="NanumGothic, 'Noto Sans CJK SC', 'Liberation Sans', sans-serif" font-size="9.2" font-weight="800" letter-spacing="-0.38" stroke="#000" stroke-width="0.15">5</text>
<text x="952.35" y="388.9" font-family="NanumGothic, 'Noto Sans CJK SC', 'Liberation Sans', sans-serif" font-size="9.2" font-weight="800" letter-spacing="-0.38" stroke="#000" stroke-width="0.15">10</text>
<text x="991.73" y="388.9" font-family="NanumGothic, 'Noto Sans CJK SC', 'Liberation Sans', sans-serif" font-size="9.2" font-weight="800" letter-spacing="-0.38" stroke="#000" stroke-width="0.15">15</text>
<text x="1031.1" y="388.9" font-family="NanumGothic, 'Noto Sans CJK SC', 'Liberation Sans', sans-serif" font-size="9.2" font-weight="800" letter-spacing="-0.38" stroke="#000" stroke-width="0.15">20</text>
<text x="1070.47" y="388.9" font-family="NanumGothic, 'Noto Sans CJK SC', 'Liberation Sans', sans-serif" font-size="9.2" font-weight="800" letter-spacing="-0.38" stroke="#000" stroke-width="0.15">25</text>
<text x="1109.84" y="388.9" font-family="NanumGothic, 'Noto Sans CJK SC', 'Liberation Sans', sans-serif" font-size="9.2" font-weight="800" letter-spacing="-0.38" stroke="#000" stroke-width="0.15">30</text>
<text x="1149.21" y="388.9" font-family="NanumGothic, 'Noto Sans CJK SC', 'Liberation Sans', sans-serif" font-size="9.2" font-weight="800" letter-spacing="-0.38" stroke="#000" stroke-width="0.15">35</text>
<text x="1188.58" y="388.9" font-family="NanumGothic, 'Noto Sans CJK SC', 'Liberation Sans', sans-serif" font-size="9.2" font-weight="800" letter-spacing="-0.38" stroke="#000" stroke-width="0.15">40</text>
<text x="1227.95" y="388.9" font-family="NanumGothic, 'Noto Sans CJK SC', 'Liberation Sans', sans-serif" font-size="9.2" font-weight="800" letter-spacing="-0.38" stroke="#000" stroke-width="0.15">45</text>
<text x="1267.33" y="388.9" font-family="NanumGothic, 'Noto Sans CJK SC', 'Liberation Sans', sans-serif" font-size="9.2" font-weight="800" letter-spacing="-0.38" stroke="#000" stroke-width="0.15">50</text>
<text x="1306.7" y="388.9" font-family="NanumGothic, 'Noto Sans CJK SC', 'Liberation Sans', sans-serif" font-size="9.2" font-weight="800" letter-spacing="-0.38" stroke="#000" stroke-width="0.15">55</text>
<text x="1346.07" y="388.9" font-family="NanumGothic, 'Noto Sans CJK SC', 'Liberation Sans', sans-serif" font-size="9.2" font-weight="800" letter-spacing="-0.38" stroke="#000" stroke-width="0.15">60</text>
<text x="1385.44" y="388.9" font-family="NanumGothic, 'Noto Sans CJK SC', 'Liberation Sans', sans-serif" font-size="9.2" font-weight="800" letter-spacing="-0.38" stroke="#000" stroke-width="0.15">65</text>
<text x="1424.81" y="388.9" font-family="NanumGothic, 'Noto Sans CJK SC', 'Liberation Sans', sans-serif" font-size="9.2" font-weight="800" letter-spacing="-0.38" stroke="#000" stroke-width="0.15">70</text>
<text x="1464.18" y="388.9" font-family="NanumGothic, 'Noto Sans CJK SC', 'Liberation Sans', sans-serif" font-size="9.2" font-weight="800" letter-spacing="-0.38" stroke="#000" stroke-width="0.15">75</text>
<text x="1503.55" y="388.9" font-family="NanumGothic, 'Noto Sans CJK SC', 'Liberation Sans', sans-serif" font-size="9.2" font-weight="800" letter-spacing="-0.38" stroke="#000" stroke-width="0.15">80</text>
<text x="1542.92" y="388.9" font-family="NanumGothic, 'Noto Sans CJK SC', 'Liberation Sans', sans-serif" font-size="9.2" font-weight="800" letter-spacing="-0.38" stroke="#000" stroke-width="0.15">85</text>
<text x="1582.3" y="388.9" font-family="NanumGothic, 'Noto Sans CJK SC', 'Liberation Sans', sans-serif" font-size="9.2" font-weight="800" letter-spacing="-0.38" stroke="#000" stroke-width="0.15">90</text>
<text x="1621.67" y="388.9" font-family="NanumGothic, 'Noto Sans CJK SC', 'Liberation Sans', sans-serif" font-size="9.2" font-weight="800" letter-spacing="-0.38" stroke="#000" stroke-width="0.15">95</text>
<text x="1658.44" y="388.9" font-family="NanumGothic, 'Noto Sans CJK SC', 'Liberation Sans', sans-serif" font-size="9.2" font-weight="800" letter-spacing="-0.38" stroke="#000" stroke-width="0.15">100</text>
</g>
<text transform="translate(1276.15,12) scale(1,0.94)" font-family="IPAGothic, 'DejaVu Sans Mono', 'Liberation Mono', monospace" font-size="15.74" font-weight="bold" xml:space="preserve"><tspan x="-326.61" textLength="432.85" lengthAdjust="spacing">Performance Comparison of Different Algorithms on the C</tspan><tspan x="108.37" font-family="NanumGothic, 'Noto Sans CJK SC', 'Liberation Sans', sans-serif" font-size="14.95" font-weight="800">I</tspan><tspan x="114.12" textLength="31.48" lengthAdjust="spacing">FAR1</tspan><tspan x="145.33" font-family="NanumGothic, 'Noto Sans CJK SC', 'Liberation Sans', sans-serif" font-size="13.85" font-weight="800">0</tspan><tspan x="153.46" textLength="149.53" lengthAdjust="spacing"> Dataset under Non-</tspan><tspan x="305.12" font-family="NanumGothic, 'Noto Sans CJK SC', 'Liberation Sans', sans-serif" font-size="14.95" font-weight="800">I</tspan><tspan x="312.99" font-family="NanumGothic, 'Noto Sans CJK SC', 'Liberation Sans', sans-serif" font-size="14.95" font-weight="800">I</tspan><tspan x="318.74">D</tspan></text>
<text transform="translate(1276.65,403.2) scale(1,0.94)" font-family="IPAGothic, 'DejaVu Sans Mono', 'Liberation Mono', monospace" font-size="13.7" font-weight="bold" xml:space="preserve"><tspan x="-51.38" textLength="102.75" lengthAdjust="spacing">Training Epochs</tspan></text>
<text transform="translate(856.6,197.45) rotate(-90) scale(1,0.94)" font-family="IPAGothic, 'DejaVu Sans Mono', 'Liberation Mono', monospace" font-size="13.7" font-weight="bold" xml:space="preserve" stroke="#000" stroke-width="0.15"><tspan x="-37.67" textLength="75.35" lengthAdjust="spacing">Accuracy(%)</tspan></text>
</g>
<text y="484.1" font-family="'Liberation Serif', serif" font-size="44.5"><tspan x="369.35" dy="1" textLength="12.82" lengthAdjust="spacingAndGlyphs">(</tspan><tspan x="383" dy="-1" font-weight="bold">a</tspan><tspan x="403.95" dy="1" textLength="12.82" lengthAdjust="spacingAndGlyphs">)</tspan></text>
<text y="484.1" font-family="'Liberation Serif', serif" font-size="44.5"><tspan x="1235.05" dy="1" textLength="12.82" lengthAdjust="spacingAndGlyphs">(</tspan><tspan x="1249.6" dy="-1" font-weight="bold">b</tspan><tspan x="1274.7" dy="1" textLength="12.82" lengthAdjust="spacingAndGlyphs">)</tspan></text>
</svg></body></html>
